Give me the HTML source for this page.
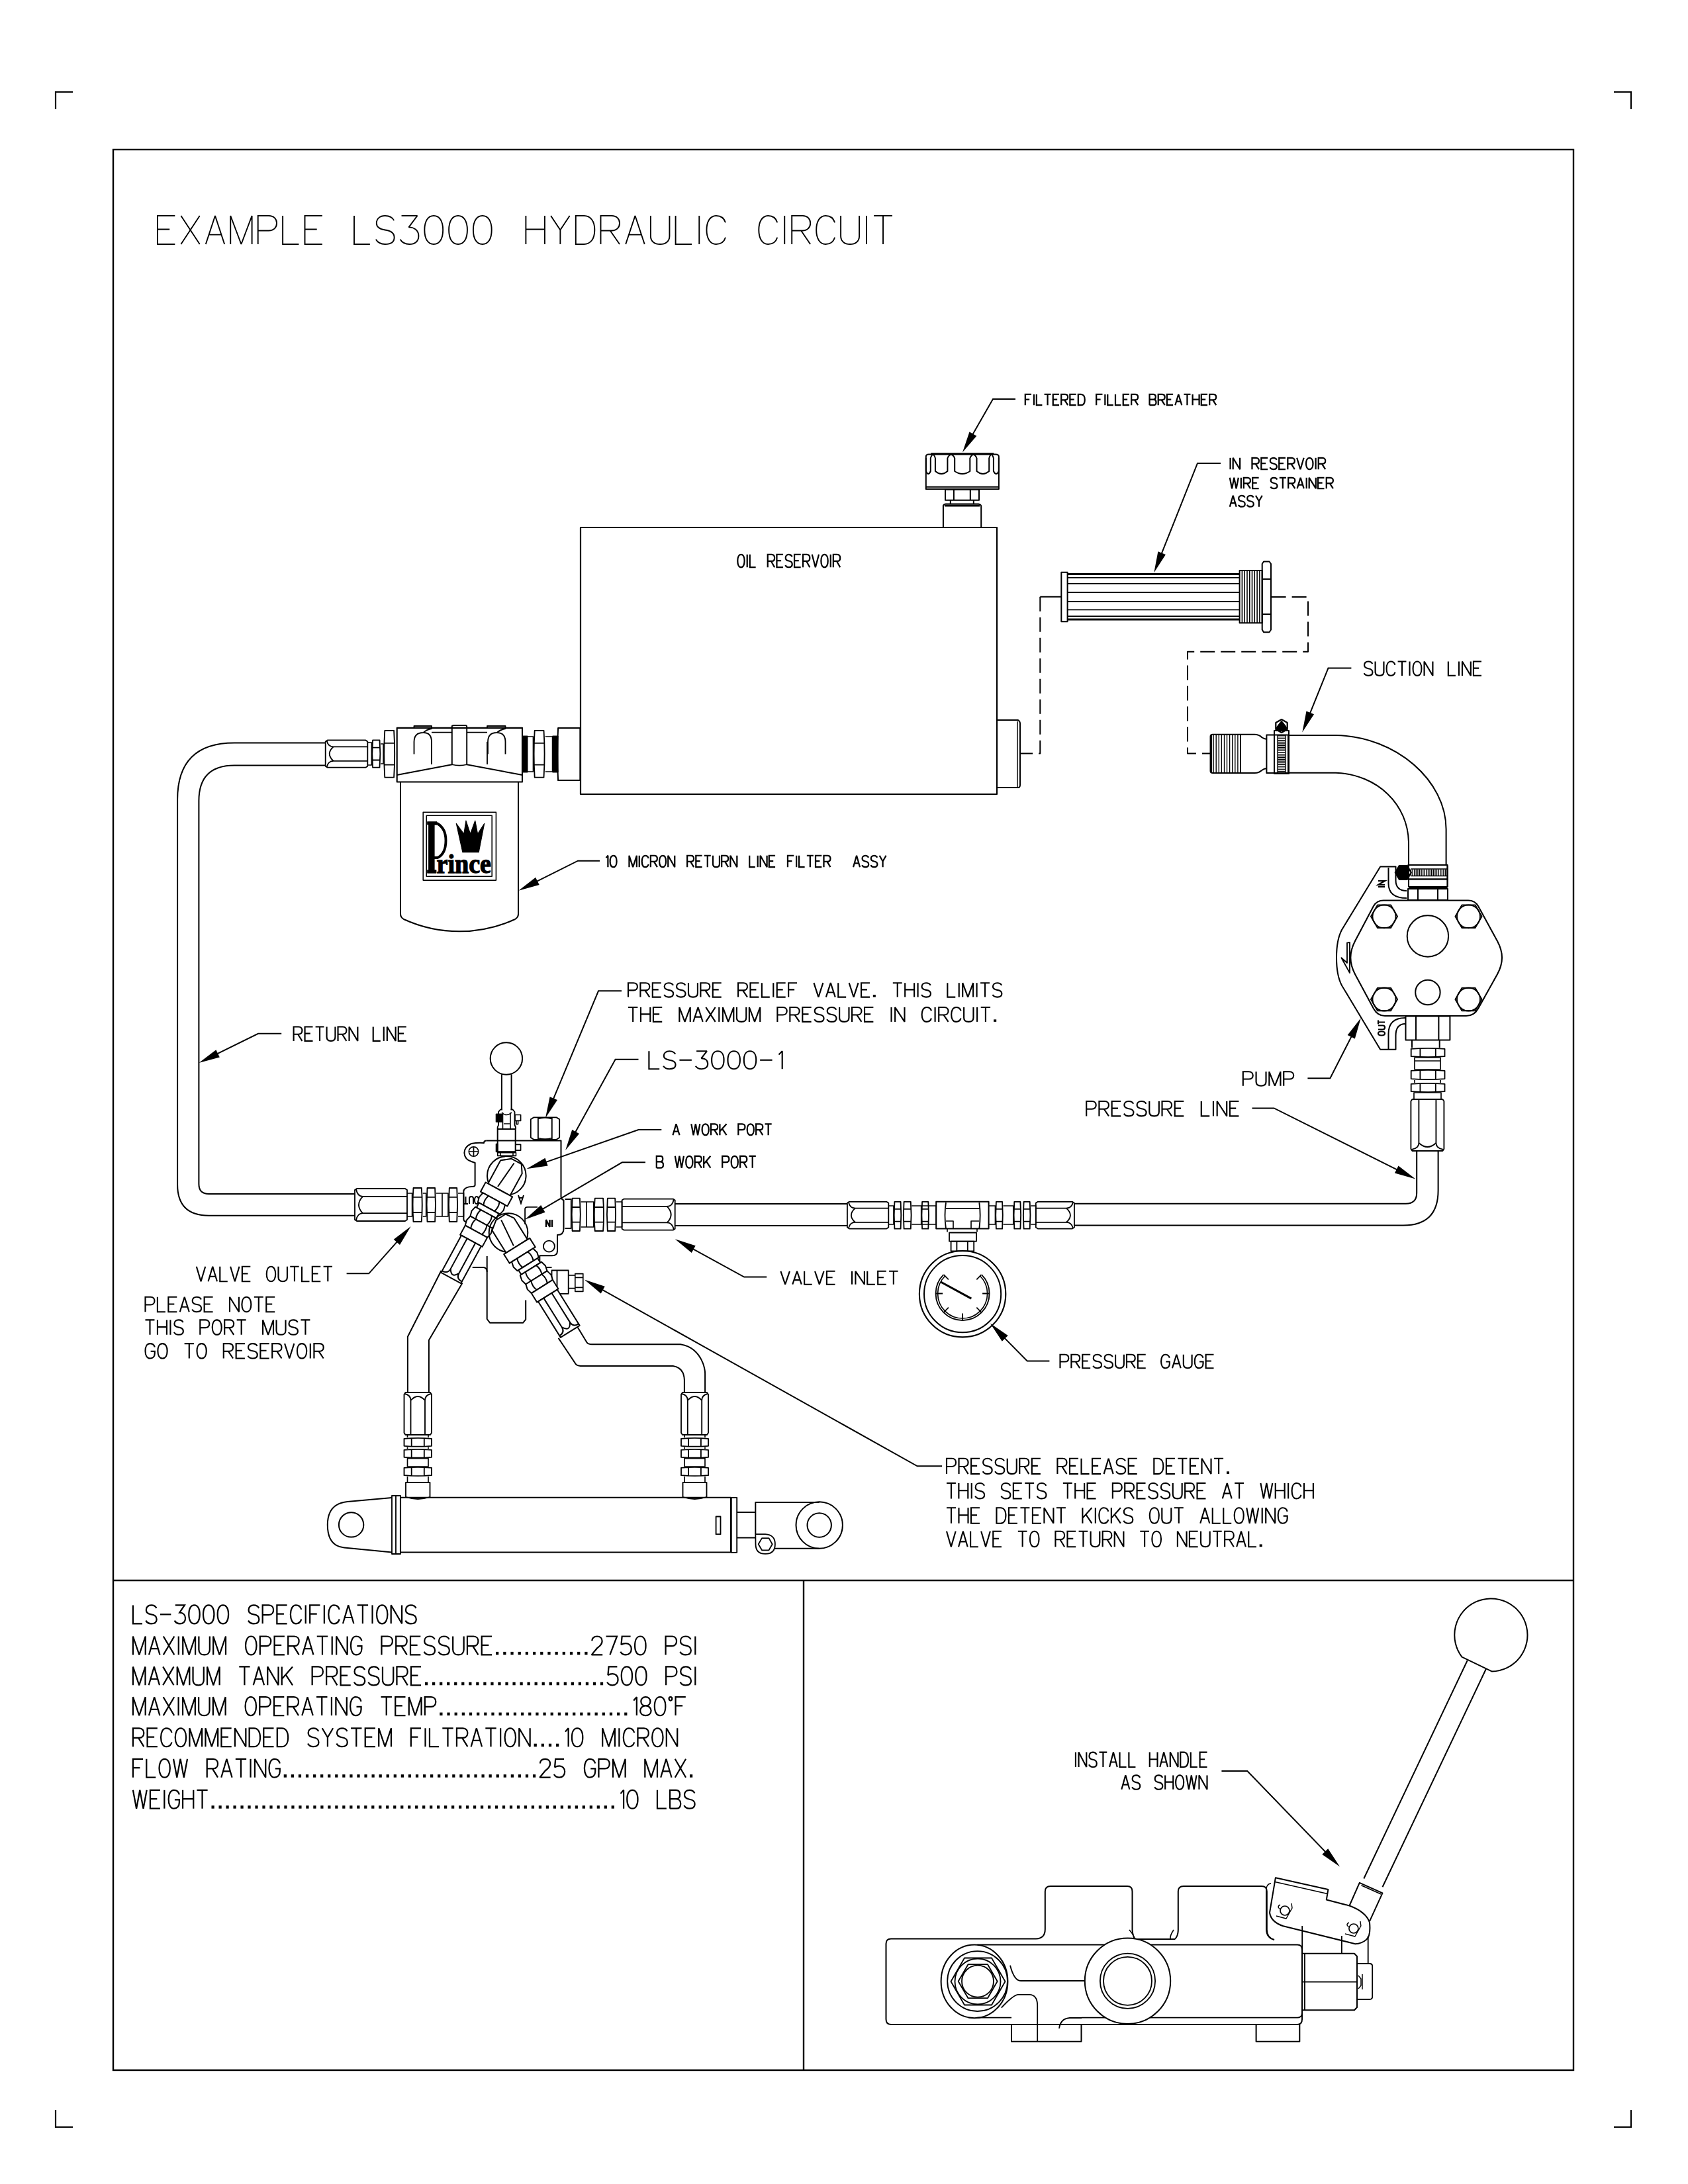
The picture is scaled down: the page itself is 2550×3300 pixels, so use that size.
<!DOCTYPE html>
<html><head><meta charset="utf-8"><style>
html,body{margin:0;padding:0;background:#fff;}
svg{display:block;}
.t path{vector-effect:non-scaling-stroke;stroke-linecap:butt;stroke-linejoin:miter;stroke-miterlimit:2.2;}
</style></head><body>
<svg width="2550" height="3300" viewBox="0 0 2550 3300">
<rect width="2550" height="3300" fill="#fff"/>
<rect x="171" y="226" width="2206" height="2902" fill="none" stroke="#000" stroke-width="2.4"/>
<path d="M84,165 V139 H110 M2438,139 H2464 V165 M84,3188 V3214 H110 M2438,3214 H2464 V3188" fill="none" stroke="#000" stroke-width="2.2"/>
<path d="M171,2388 H2377 M1214,2388 V3128" fill="none" stroke="#000" stroke-width="2.4"/>
<g transform="translate(238.0,326.0) scale(2.0228,2.0476)" fill="none" stroke="#000" stroke-width="1.9064999999999999" vector-effect="non-scaling-stroke" class="t"><path transform="translate(0.00,0)" d="M13,0 H0 V21 H13 M0,10 H9"/><path transform="translate(17.50,0)" d="M0,0 L14,21 M14,0 L0,21"/><path transform="translate(36.00,0)" d="M0,21 L7,0 L14,21 M2.6,14 L11.4,14"/><path transform="translate(54.50,0)" d="M0,21 V0 L8,21 L16,0 V21"/><path transform="translate(75.00,0)" d="M0,21 V0 H8 C12,0 14,2.5 14,5.5 C14,8.5 12,11 8,11 H0"/><path transform="translate(93.50,0)" d="M0,0 V21 H12"/><path transform="translate(110.00,0)" d="M13,0 H0 V21 H13 M0,10 H9"/></g>
<g transform="translate(535.0,326.0) scale(1.9876,2.0476)" fill="none" stroke="#000" stroke-width="1.9064999999999999" vector-effect="non-scaling-stroke" class="t"><path transform="translate(0.00,0)" d="M0,0 V21 H12"/><path transform="translate(16.50,0)" d="M13.8,3.5 C12.5,1 10,0 7,0 C3,0 0.5,2.2 0.5,5.5 C0.5,9 3.5,10 7,10.5 C11,11 14,12.5 14,16 C14,19.5 11,21 7,21 C4,21 1.4,19.8 0,17.5"/><path transform="translate(35.00,0)" d="M1,0 H13 L6.5,8.5 C11,8.5 14,11 14,15 C14,19 11,21 7,21 C4,21 1.4,19.8 0,17.5"/><path transform="translate(53.50,0)" d="M7,0 C2.6,0 0,4 0,10.5 C0,17 2.6,21 7,21 C11.4,21 14,17 14,10.5 C14,4 11.4,0 7,0 Z"/><path transform="translate(72.00,0)" d="M7,0 C2.6,0 0,4 0,10.5 C0,17 2.6,21 7,21 C11.4,21 14,17 14,10.5 C14,4 11.4,0 7,0 Z"/><path transform="translate(90.50,0)" d="M7,0 C2.6,0 0,4 0,10.5 C0,17 2.6,21 7,21 C11.4,21 14,17 14,10.5 C14,4 11.4,0 7,0 Z"/></g>
<g transform="translate(794.4,326.0) scale(2.0378,2.0476)" fill="none" stroke="#000" stroke-width="1.9064999999999999" vector-effect="non-scaling-stroke" class="t"><path transform="translate(0.00,0)" d="M0,0 V21 M14,0 V21 M0,10 H14"/><path transform="translate(18.50,0)" d="M0,0 L7,10.5 V21 M14,0 L7,10.5"/><path transform="translate(37.00,0)" d="M0,0 V21 H6 C11,21 14,17 14,10.5 C14,4 11,0 6,0 Z"/><path transform="translate(55.50,0)" d="M0,21 V0 H8 C12,0 14,2.5 14,5.5 C14,8.5 12,11 8,11 H0 M7,11 L14,21"/><path transform="translate(74.00,0)" d="M0,21 L7,0 L14,21 M2.6,14 L11.4,14"/><path transform="translate(92.50,0)" d="M0,0 V15 C0,19 3,21 7,21 C11,21 14,19 14,15 V0"/><path transform="translate(111.00,0)" d="M0,0 V21 H12"/><path transform="translate(127.50,0)" d="M1,0 V21"/><path transform="translate(134.00,0)" d="M14,5 C13,1.8 10.5,0 7,0 C2.6,0 0,4.4 0,10.5 C0,16.6 2.6,21 7,21 C10.5,21 13,19.2 14,16"/></g>
<g transform="translate(1146.3,326.0) scale(1.9970,2.0476)" fill="none" stroke="#000" stroke-width="1.9064999999999999" vector-effect="non-scaling-stroke" class="t"><path transform="translate(0.00,0)" d="M14,5 C13,1.8 10.5,0 7,0 C2.6,0 0,4.4 0,10.5 C0,16.6 2.6,21 7,21 C10.5,21 13,19.2 14,16"/><path transform="translate(18.50,0)" d="M1,0 V21"/><path transform="translate(25.00,0)" d="M0,21 V0 H8 C12,0 14,2.5 14,5.5 C14,8.5 12,11 8,11 H0 M7,11 L14,21"/><path transform="translate(43.50,0)" d="M14,5 C13,1.8 10.5,0 7,0 C2.6,0 0,4.4 0,10.5 C0,16.6 2.6,21 7,21 C10.5,21 13,19.2 14,16"/><path transform="translate(62.00,0)" d="M0,0 V15 C0,19 3,21 7,21 C11,21 14,19 14,15 V0"/><path transform="translate(80.50,0)" d="M1,0 V21"/><path transform="translate(87.00,0)" d="M0,0 H14 M7,0 V21"/></g>
<g transform="translate(1548.8,595.8) scale(0.7112,0.7810)" fill="none" stroke="#000" stroke-width="2.232" vector-effect="non-scaling-stroke" class="t"><path transform="translate(0.00,0)" d="M13,0 H0 V21 M0,10 H9"/><path transform="translate(17.50,0)" d="M1,0 V21"/><path transform="translate(24.00,0)" d="M0,0 V21 H12"/><path transform="translate(40.50,0)" d="M0,0 H14 M7,0 V21"/><path transform="translate(59.00,0)" d="M13,0 H0 V21 H13 M0,10 H9"/><path transform="translate(76.50,0)" d="M0,21 V0 H8 C12,0 14,2.5 14,5.5 C14,8.5 12,11 8,11 H0 M7,11 L14,21"/><path transform="translate(95.00,0)" d="M13,0 H0 V21 H13 M0,10 H9"/><path transform="translate(112.50,0)" d="M0,0 V21 H6 C11,21 14,17 14,10.5 C14,4 11,0 6,0 Z"/><path transform="translate(151.00,0)" d="M13,0 H0 V21 M0,10 H9"/><path transform="translate(168.50,0)" d="M1,0 V21"/><path transform="translate(175.00,0)" d="M0,0 V21 H12"/><path transform="translate(191.50,0)" d="M0,0 V21 H12"/><path transform="translate(208.00,0)" d="M13,0 H0 V21 H13 M0,10 H9"/><path transform="translate(225.50,0)" d="M0,21 V0 H8 C12,0 14,2.5 14,5.5 C14,8.5 12,11 8,11 H0 M7,11 L14,21"/><path transform="translate(264.00,0)" d="M0,21 V0 H8 C11.5,0 13,2.2 13,5 C13,7.8 11.5,10 8,10 H0 M8,10 C12,10 14,12.5 14,15.5 C14,18.8 12,21 8,21 H0"/><path transform="translate(282.50,0)" d="M0,21 V0 H8 C12,0 14,2.5 14,5.5 C14,8.5 12,11 8,11 H0 M7,11 L14,21"/><path transform="translate(301.00,0)" d="M13,0 H0 V21 H13 M0,10 H9"/><path transform="translate(318.50,0)" d="M0,21 L7,0 L14,21 M2.6,14 L11.4,14"/><path transform="translate(337.00,0)" d="M0,0 H14 M7,0 V21"/><path transform="translate(355.50,0)" d="M0,0 V21 M14,0 V21 M0,10 H14"/><path transform="translate(374.00,0)" d="M13,0 H0 V21 H13 M0,10 H9"/><path transform="translate(391.50,0)" d="M0,21 V0 H8 C12,0 14,2.5 14,5.5 C14,8.5 12,11 8,11 H0 M7,11 L14,21"/></g>
<g transform="translate(1857.8,691.8) scale(0.7482,0.8286)" fill="none" stroke="#000" stroke-width="2.232" vector-effect="non-scaling-stroke" class="t"><path transform="translate(0.00,0)" d="M1,0 V21"/><path transform="translate(6.50,0)" d="M0,21 V0 L14,21 V0"/><path transform="translate(45.00,0)" d="M0,21 V0 H8 C12,0 14,2.5 14,5.5 C14,8.5 12,11 8,11 H0 M7,11 L14,21"/><path transform="translate(63.50,0)" d="M13,0 H0 V21 H13 M0,10 H9"/><path transform="translate(81.00,0)" d="M13.8,3.5 C12.5,1 10,0 7,0 C3,0 0.5,2.2 0.5,5.5 C0.5,9 3.5,10 7,10.5 C11,11 14,12.5 14,16 C14,19.5 11,21 7,21 C4,21 1.4,19.8 0,17.5"/><path transform="translate(99.50,0)" d="M13,0 H0 V21 H13 M0,10 H9"/><path transform="translate(117.00,0)" d="M0,21 V0 H8 C12,0 14,2.5 14,5.5 C14,8.5 12,11 8,11 H0 M7,11 L14,21"/><path transform="translate(135.50,0)" d="M0,0 L7,21 L14,0"/><path transform="translate(154.00,0)" d="M7,0 C2.6,0 0,4.4 0,10.5 C0,16.6 2.6,21 7,21 C11.4,21 14,16.6 14,10.5 C14,4.4 11.4,0 7,0 Z"/><path transform="translate(172.50,0)" d="M1,0 V21"/><path transform="translate(179.00,0)" d="M0,21 V0 H8 C12,0 14,2.5 14,5.5 C14,8.5 12,11 8,11 H0 M7,11 L14,21"/></g>
<g transform="translate(1857.8,721.8) scale(0.7244,0.7810)" fill="none" stroke="#000" stroke-width="2.232" vector-effect="non-scaling-stroke" class="t"><path transform="translate(0.00,0)" d="M0,0 L4.5,21 L9,0 L13.5,21 L18,0"/><path transform="translate(22.50,0)" d="M1,0 V21"/><path transform="translate(29.00,0)" d="M0,21 V0 H8 C12,0 14,2.5 14,5.5 C14,8.5 12,11 8,11 H0 M7,11 L14,21"/><path transform="translate(47.50,0)" d="M13,0 H0 V21 H13 M0,10 H9"/><path transform="translate(85.00,0)" d="M13.8,3.5 C12.5,1 10,0 7,0 C3,0 0.5,2.2 0.5,5.5 C0.5,9 3.5,10 7,10.5 C11,11 14,12.5 14,16 C14,19.5 11,21 7,21 C4,21 1.4,19.8 0,17.5"/><path transform="translate(103.50,0)" d="M0,0 H14 M7,0 V21"/><path transform="translate(122.00,0)" d="M0,21 V0 H8 C12,0 14,2.5 14,5.5 C14,8.5 12,11 8,11 H0 M7,11 L14,21"/><path transform="translate(140.50,0)" d="M0,21 L7,0 L14,21 M2.6,14 L11.4,14"/><path transform="translate(159.00,0)" d="M1,0 V21"/><path transform="translate(165.50,0)" d="M0,21 V0 L14,21 V0"/><path transform="translate(184.00,0)" d="M13,0 H0 V21 H13 M0,10 H9"/><path transform="translate(201.50,0)" d="M0,21 V0 H8 C12,0 14,2.5 14,5.5 C14,8.5 12,11 8,11 H0 M7,11 L14,21"/></g>
<g transform="translate(1857.8,748.8) scale(0.7050,0.8048)" fill="none" stroke="#000" stroke-width="2.232" vector-effect="non-scaling-stroke" class="t"><path transform="translate(0.00,0)" d="M0,21 L7,0 L14,21 M2.6,14 L11.4,14"/><path transform="translate(18.50,0)" d="M13.8,3.5 C12.5,1 10,0 7,0 C3,0 0.5,2.2 0.5,5.5 C0.5,9 3.5,10 7,10.5 C11,11 14,12.5 14,16 C14,19.5 11,21 7,21 C4,21 1.4,19.8 0,17.5"/><path transform="translate(37.00,0)" d="M13.8,3.5 C12.5,1 10,0 7,0 C3,0 0.5,2.2 0.5,5.5 C0.5,9 3.5,10 7,10.5 C11,11 14,12.5 14,16 C14,19.5 11,21 7,21 C4,21 1.4,19.8 0,17.5"/><path transform="translate(55.50,0)" d="M0,0 L7,10.5 V21 M14,0 L7,10.5"/></g>
<g transform="translate(1114.3,837.8) scale(0.7394,0.9238)" fill="none" stroke="#000" stroke-width="2.232" vector-effect="non-scaling-stroke" class="t"><path transform="translate(0.00,0)" d="M7,0 C2.6,0 0,4.4 0,10.5 C0,16.6 2.6,21 7,21 C11.4,21 14,16.6 14,10.5 C14,4.4 11.4,0 7,0 Z"/><path transform="translate(18.50,0)" d="M1,0 V21"/><path transform="translate(25.00,0)" d="M0,0 V21 H12"/><path transform="translate(61.50,0)" d="M0,21 V0 H8 C12,0 14,2.5 14,5.5 C14,8.5 12,11 8,11 H0 M7,11 L14,21"/><path transform="translate(80.00,0)" d="M13,0 H0 V21 H13 M0,10 H9"/><path transform="translate(97.50,0)" d="M13.8,3.5 C12.5,1 10,0 7,0 C3,0 0.5,2.2 0.5,5.5 C0.5,9 3.5,10 7,10.5 C11,11 14,12.5 14,16 C14,19.5 11,21 7,21 C4,21 1.4,19.8 0,17.5"/><path transform="translate(116.00,0)" d="M13,0 H0 V21 H13 M0,10 H9"/><path transform="translate(133.50,0)" d="M0,21 V0 H8 C12,0 14,2.5 14,5.5 C14,8.5 12,11 8,11 H0 M7,11 L14,21"/><path transform="translate(152.00,0)" d="M0,0 L7,21 L14,0"/><path transform="translate(170.50,0)" d="M7,0 C2.6,0 0,4.4 0,10.5 C0,16.6 2.6,21 7,21 C11.4,21 14,16.6 14,10.5 C14,4.4 11.4,0 7,0 Z"/><path transform="translate(189.00,0)" d="M1,0 V21"/><path transform="translate(195.50,0)" d="M0,21 V0 H8 C12,0 14,2.5 14,5.5 C14,8.5 12,11 8,11 H0 M7,11 L14,21"/></g>
<g transform="translate(2060.6,999.5) scale(0.9187,1.0190)" fill="none" stroke="#000" stroke-width="2.139" vector-effect="non-scaling-stroke" class="t"><path transform="translate(0.00,0)" d="M13.8,3.5 C12.5,1 10,0 7,0 C3,0 0.5,2.2 0.5,5.5 C0.5,9 3.5,10 7,10.5 C11,11 14,12.5 14,16 C14,19.5 11,21 7,21 C4,21 1.4,19.8 0,17.5"/><path transform="translate(18.50,0)" d="M0,0 V15 C0,19 3,21 7,21 C11,21 14,19 14,15 V0"/><path transform="translate(37.00,0)" d="M14,5 C13,1.8 10.5,0 7,0 C2.6,0 0,4.4 0,10.5 C0,16.6 2.6,21 7,21 C10.5,21 13,19.2 14,16"/><path transform="translate(55.50,0)" d="M0,0 H14 M7,0 V21"/><path transform="translate(74.00,0)" d="M1,0 V21"/><path transform="translate(80.50,0)" d="M7,0 C2.6,0 0,4.4 0,10.5 C0,16.6 2.6,21 7,21 C11.4,21 14,16.6 14,10.5 C14,4.4 11.4,0 7,0 Z"/><path transform="translate(99.00,0)" d="M0,21 V0 L14,21 V0"/><path transform="translate(138.50,0)" d="M0,0 V21 H12"/><path transform="translate(155.00,0)" d="M1,0 V21"/><path transform="translate(161.50,0)" d="M0,21 V0 L14,21 V0"/><path transform="translate(180.00,0)" d="M13,0 H0 V21 H13 M0,10 H9"/></g>
<g transform="translate(913.4,1292.8) scale(0.7128,0.8286)" fill="none" stroke="#000" stroke-width="2.232" vector-effect="non-scaling-stroke" class="t"><path transform="translate(0.00,0)" d="M3,4 L7,0 V21"/><path transform="translate(11.50,0)" d="M7,0 C2.6,0 0,4 0,10.5 C0,17 2.6,21 7,21 C11.4,21 14,17 14,10.5 C14,4 11.4,0 7,0 Z"/><path transform="translate(52.00,0)" d="M0,21 V0 L8,21 L16,0 V21"/><path transform="translate(72.50,0)" d="M1,0 V21"/><path transform="translate(79.00,0)" d="M14,5 C13,1.8 10.5,0 7,0 C2.6,0 0,4.4 0,10.5 C0,16.6 2.6,21 7,21 C10.5,21 13,19.2 14,16"/><path transform="translate(97.50,0)" d="M0,21 V0 H8 C12,0 14,2.5 14,5.5 C14,8.5 12,11 8,11 H0 M7,11 L14,21"/><path transform="translate(116.00,0)" d="M7,0 C2.6,0 0,4.4 0,10.5 C0,16.6 2.6,21 7,21 C11.4,21 14,16.6 14,10.5 C14,4.4 11.4,0 7,0 Z"/><path transform="translate(134.50,0)" d="M0,21 V0 L14,21 V0"/><path transform="translate(175.00,0)" d="M0,21 V0 H8 C12,0 14,2.5 14,5.5 C14,8.5 12,11 8,11 H0 M7,11 L14,21"/><path transform="translate(193.50,0)" d="M13,0 H0 V21 H13 M0,10 H9"/><path transform="translate(211.00,0)" d="M0,0 H14 M7,0 V21"/><path transform="translate(229.50,0)" d="M0,0 V15 C0,19 3,21 7,21 C11,21 14,19 14,15 V0"/><path transform="translate(248.00,0)" d="M0,21 V0 H8 C12,0 14,2.5 14,5.5 C14,8.5 12,11 8,11 H0 M7,11 L14,21"/><path transform="translate(266.50,0)" d="M0,21 V0 L14,21 V0"/><path transform="translate(307.00,0)" d="M0,0 V21 H12"/><path transform="translate(323.50,0)" d="M1,0 V21"/><path transform="translate(330.00,0)" d="M0,21 V0 L14,21 V0"/><path transform="translate(348.50,0)" d="M13,0 H0 V21 H13 M0,10 H9"/><path transform="translate(388.00,0)" d="M13,0 H0 V21 M0,10 H9"/><path transform="translate(405.50,0)" d="M1,0 V21"/><path transform="translate(412.00,0)" d="M0,0 V21 H12"/><path transform="translate(428.50,0)" d="M0,0 H14 M7,0 V21"/><path transform="translate(447.00,0)" d="M13,0 H0 V21 H13 M0,10 H9"/><path transform="translate(464.50,0)" d="M0,21 V0 H8 C12,0 14,2.5 14,5.5 C14,8.5 12,11 8,11 H0 M7,11 L14,21"/><path transform="translate(527.00,0)" d="M0,21 L7,0 L14,21 M2.6,14 L11.4,14"/><path transform="translate(545.50,0)" d="M13.8,3.5 C12.5,1 10,0 7,0 C3,0 0.5,2.2 0.5,5.5 C0.5,9 3.5,10 7,10.5 C11,11 14,12.5 14,16 C14,19.5 11,21 7,21 C4,21 1.4,19.8 0,17.5"/><path transform="translate(564.00,0)" d="M13.8,3.5 C12.5,1 10,0 7,0 C3,0 0.5,2.2 0.5,5.5 C0.5,9 3.5,10 7,10.5 C11,11 14,12.5 14,16 C14,19.5 11,21 7,21 C4,21 1.4,19.8 0,17.5"/><path transform="translate(582.50,0)" d="M0,0 L7,10.5 V21 M14,0 L7,10.5"/></g>
<g transform="translate(443.6,1551.5) scale(0.9170,1.0190)" fill="none" stroke="#000" stroke-width="2.139" vector-effect="non-scaling-stroke" class="t"><path transform="translate(0.00,0)" d="M0,21 V0 H8 C12,0 14,2.5 14,5.5 C14,8.5 12,11 8,11 H0 M7,11 L14,21"/><path transform="translate(18.50,0)" d="M13,0 H0 V21 H13 M0,10 H9"/><path transform="translate(36.00,0)" d="M0,0 H14 M7,0 V21"/><path transform="translate(54.50,0)" d="M0,0 V15 C0,19 3,21 7,21 C11,21 14,19 14,15 V0"/><path transform="translate(73.00,0)" d="M0,21 V0 H8 C12,0 14,2.5 14,5.5 C14,8.5 12,11 8,11 H0 M7,11 L14,21"/><path transform="translate(91.50,0)" d="M0,21 V0 L14,21 V0"/><path transform="translate(131.00,0)" d="M0,0 V21 H12"/><path transform="translate(147.50,0)" d="M1,0 V21"/><path transform="translate(154.00,0)" d="M0,21 V0 L14,21 V0"/><path transform="translate(172.50,0)" d="M13,0 H0 V21 H13 M0,10 H9"/></g>
<g transform="translate(949.0,1485.2) scale(0.9945,1.0190)" fill="none" stroke="#000" stroke-width="2.139" vector-effect="non-scaling-stroke" class="t"><path transform="translate(0.00,0)" d="M0,21 V0 H8 C12,0 14,2.5 14,5.5 C14,8.5 12,11 8,11 H0"/><path transform="translate(18.50,0)" d="M0,21 V0 H8 C12,0 14,2.5 14,5.5 C14,8.5 12,11 8,11 H0 M7,11 L14,21"/><path transform="translate(37.00,0)" d="M13,0 H0 V21 H13 M0,10 H9"/><path transform="translate(54.50,0)" d="M13.8,3.5 C12.5,1 10,0 7,0 C3,0 0.5,2.2 0.5,5.5 C0.5,9 3.5,10 7,10.5 C11,11 14,12.5 14,16 C14,19.5 11,21 7,21 C4,21 1.4,19.8 0,17.5"/><path transform="translate(73.00,0)" d="M13.8,3.5 C12.5,1 10,0 7,0 C3,0 0.5,2.2 0.5,5.5 C0.5,9 3.5,10 7,10.5 C11,11 14,12.5 14,16 C14,19.5 11,21 7,21 C4,21 1.4,19.8 0,17.5"/><path transform="translate(91.50,0)" d="M0,0 V15 C0,19 3,21 7,21 C11,21 14,19 14,15 V0"/><path transform="translate(110.00,0)" d="M0,21 V0 H8 C12,0 14,2.5 14,5.5 C14,8.5 12,11 8,11 H0 M7,11 L14,21"/><path transform="translate(128.50,0)" d="M13,0 H0 V21 H13 M0,10 H9"/><path transform="translate(167.00,0)" d="M0,21 V0 H8 C12,0 14,2.5 14,5.5 C14,8.5 12,11 8,11 H0 M7,11 L14,21"/><path transform="translate(185.50,0)" d="M13,0 H0 V21 H13 M0,10 H9"/><path transform="translate(203.00,0)" d="M0,0 V21 H12"/><path transform="translate(219.50,0)" d="M1,0 V21"/><path transform="translate(226.00,0)" d="M13,0 H0 V21 H13 M0,10 H9"/><path transform="translate(243.50,0)" d="M13,0 H0 V21 M0,10 H9"/><path transform="translate(282.00,0)" d="M0,0 L7,21 L14,0"/><path transform="translate(300.50,0)" d="M0,21 L7,0 L14,21 M2.6,14 L11.4,14"/><path transform="translate(319.00,0)" d="M0,0 V21 H12"/><path transform="translate(335.50,0)" d="M0,0 L7,21 L14,0"/><path transform="translate(354.00,0)" d="M13,0 H0 V21 H13 M0,10 H9"/><path transform="translate(371.50,0)" d="M2.4,17.6 V21" style="stroke-width:4.06px"/><path transform="translate(402.00,0)" d="M0,0 H14 M7,0 V21"/><path transform="translate(420.50,0)" d="M0,0 V21 M14,0 V21 M0,10 H14"/><path transform="translate(439.00,0)" d="M1,0 V21"/><path transform="translate(445.50,0)" d="M13.8,3.5 C12.5,1 10,0 7,0 C3,0 0.5,2.2 0.5,5.5 C0.5,9 3.5,10 7,10.5 C11,11 14,12.5 14,16 C14,19.5 11,21 7,21 C4,21 1.4,19.8 0,17.5"/><path transform="translate(485.00,0)" d="M0,0 V21 H12"/><path transform="translate(501.50,0)" d="M1,0 V21"/><path transform="translate(508.00,0)" d="M0,21 V0 L8,21 L16,0 V21"/><path transform="translate(528.50,0)" d="M1,0 V21"/><path transform="translate(535.00,0)" d="M0,0 H14 M7,0 V21"/><path transform="translate(553.50,0)" d="M13.8,3.5 C12.5,1 10,0 7,0 C3,0 0.5,2.2 0.5,5.5 C0.5,9 3.5,10 7,10.5 C11,11 14,12.5 14,16 C14,19.5 11,21 7,21 C4,21 1.4,19.8 0,17.5"/></g>
<g transform="translate(949.0,1522.0) scale(1.0245,1.0429)" fill="none" stroke="#000" stroke-width="2.139" vector-effect="non-scaling-stroke" class="t"><path transform="translate(0.00,0)" d="M0,0 H14 M7,0 V21"/><path transform="translate(18.50,0)" d="M0,0 V21 M14,0 V21 M0,10 H14"/><path transform="translate(37.00,0)" d="M13,0 H0 V21 H13 M0,10 H9"/><path transform="translate(75.50,0)" d="M0,21 V0 L8,21 L16,0 V21"/><path transform="translate(96.00,0)" d="M0,21 L7,0 L14,21 M2.6,14 L11.4,14"/><path transform="translate(114.50,0)" d="M0,0 L14,21 M14,0 L0,21"/><path transform="translate(133.00,0)" d="M1,0 V21"/><path transform="translate(139.50,0)" d="M0,21 V0 L8,21 L16,0 V21"/><path transform="translate(160.00,0)" d="M0,0 V15 C0,19 3,21 7,21 C11,21 14,19 14,15 V0"/><path transform="translate(178.50,0)" d="M0,21 V0 L8,21 L16,0 V21"/><path transform="translate(220.00,0)" d="M0,21 V0 H8 C12,0 14,2.5 14,5.5 C14,8.5 12,11 8,11 H0"/><path transform="translate(238.50,0)" d="M0,21 V0 H8 C12,0 14,2.5 14,5.5 C14,8.5 12,11 8,11 H0 M7,11 L14,21"/><path transform="translate(257.00,0)" d="M13,0 H0 V21 H13 M0,10 H9"/><path transform="translate(274.50,0)" d="M13.8,3.5 C12.5,1 10,0 7,0 C3,0 0.5,2.2 0.5,5.5 C0.5,9 3.5,10 7,10.5 C11,11 14,12.5 14,16 C14,19.5 11,21 7,21 C4,21 1.4,19.8 0,17.5"/><path transform="translate(293.00,0)" d="M13.8,3.5 C12.5,1 10,0 7,0 C3,0 0.5,2.2 0.5,5.5 C0.5,9 3.5,10 7,10.5 C11,11 14,12.5 14,16 C14,19.5 11,21 7,21 C4,21 1.4,19.8 0,17.5"/><path transform="translate(311.50,0)" d="M0,0 V15 C0,19 3,21 7,21 C11,21 14,19 14,15 V0"/><path transform="translate(330.00,0)" d="M0,21 V0 H8 C12,0 14,2.5 14,5.5 C14,8.5 12,11 8,11 H0 M7,11 L14,21"/><path transform="translate(348.50,0)" d="M13,0 H0 V21 H13 M0,10 H9"/><path transform="translate(387.00,0)" d="M1,0 V21"/><path transform="translate(393.50,0)" d="M0,21 V0 L14,21 V0"/><path transform="translate(433.00,0)" d="M14,5 C13,1.8 10.5,0 7,0 C2.6,0 0,4.4 0,10.5 C0,16.6 2.6,21 7,21 C10.5,21 13,19.2 14,16"/><path transform="translate(451.50,0)" d="M1,0 V21"/><path transform="translate(458.00,0)" d="M0,21 V0 H8 C12,0 14,2.5 14,5.5 C14,8.5 12,11 8,11 H0 M7,11 L14,21"/><path transform="translate(476.50,0)" d="M14,5 C13,1.8 10.5,0 7,0 C2.6,0 0,4.4 0,10.5 C0,16.6 2.6,21 7,21 C10.5,21 13,19.2 14,16"/><path transform="translate(495.00,0)" d="M0,0 V15 C0,19 3,21 7,21 C11,21 14,19 14,15 V0"/><path transform="translate(513.50,0)" d="M1,0 V21"/><path transform="translate(520.00,0)" d="M0,0 H14 M7,0 V21"/><path transform="translate(538.50,0)" d="M2.4,17.6 V21" style="stroke-width:4.06px"/></g>
<g transform="translate(980.4,1588.3) scale(1.3157,1.2810)" fill="none" stroke="#000" stroke-width="2.139" vector-effect="non-scaling-stroke" class="t"><path transform="translate(0.00,0)" d="M0,0 V21 H12"/><path transform="translate(16.50,0)" d="M13.8,3.5 C12.5,1 10,0 7,0 C3,0 0.5,2.2 0.5,5.5 C0.5,9 3.5,10 7,10.5 C11,11 14,12.5 14,16 C14,19.5 11,21 7,21 C4,21 1.4,19.8 0,17.5"/><path transform="translate(35.00,0)" d="M0,10.5 H14"/><path transform="translate(53.50,0)" d="M1,0 H13 L6.5,8.5 C11,8.5 14,11 14,15 C14,19 11,21 7,21 C4,21 1.4,19.8 0,17.5"/><path transform="translate(72.00,0)" d="M7,0 C2.6,0 0,4 0,10.5 C0,17 2.6,21 7,21 C11.4,21 14,17 14,10.5 C14,4 11.4,0 7,0 Z"/><path transform="translate(90.50,0)" d="M7,0 C2.6,0 0,4 0,10.5 C0,17 2.6,21 7,21 C11.4,21 14,17 14,10.5 C14,4 11.4,0 7,0 Z"/><path transform="translate(109.00,0)" d="M7,0 C2.6,0 0,4 0,10.5 C0,17 2.6,21 7,21 C11.4,21 14,17 14,10.5 C14,4 11.4,0 7,0 Z"/><path transform="translate(127.50,0)" d="M0,10.5 H14"/><path transform="translate(146.00,0)" d="M3,4 L7,0 V21"/></g>
<g transform="translate(1016.4,1698.3) scale(0.7248,0.8048)" fill="none" stroke="#000" stroke-width="2.232" vector-effect="non-scaling-stroke" class="t"><path transform="translate(0.00,0)" d="M0,21 L7,0 L14,21 M2.6,14 L11.4,14"/><path transform="translate(38.50,0)" d="M0,0 L4.5,21 L9,0 L13.5,21 L18,0"/><path transform="translate(61.00,0)" d="M7,0 C2.6,0 0,4.4 0,10.5 C0,16.6 2.6,21 7,21 C11.4,21 14,16.6 14,10.5 C14,4.4 11.4,0 7,0 Z"/><path transform="translate(79.50,0)" d="M0,21 V0 H8 C12,0 14,2.5 14,5.5 C14,8.5 12,11 8,11 H0 M7,11 L14,21"/><path transform="translate(98.00,0)" d="M0,0 V21 M14,0 L0,14 M5,9 L14,21"/><path transform="translate(136.50,0)" d="M0,21 V0 H8 C12,0 14,2.5 14,5.5 C14,8.5 12,11 8,11 H0"/><path transform="translate(155.00,0)" d="M7,0 C2.6,0 0,4.4 0,10.5 C0,16.6 2.6,21 7,21 C11.4,21 14,16.6 14,10.5 C14,4.4 11.4,0 7,0 Z"/><path transform="translate(173.50,0)" d="M0,21 V0 H8 C12,0 14,2.5 14,5.5 C14,8.5 12,11 8,11 H0 M7,11 L14,21"/><path transform="translate(192.00,0)" d="M0,0 H14 M7,0 V21"/></g>
<g transform="translate(991.8,1746.8) scale(0.7282,0.8524)" fill="none" stroke="#000" stroke-width="2.232" vector-effect="non-scaling-stroke" class="t"><path transform="translate(0.00,0)" d="M0,21 V0 H8 C11.5,0 13,2.2 13,5 C13,7.8 11.5,10 8,10 H0 M8,10 C12,10 14,12.5 14,15.5 C14,18.8 12,21 8,21 H0"/><path transform="translate(38.50,0)" d="M0,0 L4.5,21 L9,0 L13.5,21 L18,0"/><path transform="translate(61.00,0)" d="M7,0 C2.6,0 0,4.4 0,10.5 C0,16.6 2.6,21 7,21 C11.4,21 14,16.6 14,10.5 C14,4.4 11.4,0 7,0 Z"/><path transform="translate(79.50,0)" d="M0,21 V0 H8 C12,0 14,2.5 14,5.5 C14,8.5 12,11 8,11 H0 M7,11 L14,21"/><path transform="translate(98.00,0)" d="M0,0 V21 M14,0 L0,14 M5,9 L14,21"/><path transform="translate(136.50,0)" d="M0,21 V0 H8 C12,0 14,2.5 14,5.5 C14,8.5 12,11 8,11 H0"/><path transform="translate(155.00,0)" d="M7,0 C2.6,0 0,4.4 0,10.5 C0,16.6 2.6,21 7,21 C11.4,21 14,16.6 14,10.5 C14,4.4 11.4,0 7,0 Z"/><path transform="translate(173.50,0)" d="M0,21 V0 H8 C12,0 14,2.5 14,5.5 C14,8.5 12,11 8,11 H0 M7,11 L14,21"/><path transform="translate(192.00,0)" d="M0,0 H14 M7,0 V21"/></g>
<g transform="translate(1877.8,1619.3) scale(1.0685,1.0190)" fill="none" stroke="#000" stroke-width="2.139" vector-effect="non-scaling-stroke" class="t"><path transform="translate(0.00,0)" d="M0,21 V0 H8 C12,0 14,2.5 14,5.5 C14,8.5 12,11 8,11 H0"/><path transform="translate(18.50,0)" d="M0,0 V15 C0,19 3,21 7,21 C11,21 14,19 14,15 V0"/><path transform="translate(37.00,0)" d="M0,21 V0 L8,21 L16,0 V21"/><path transform="translate(57.50,0)" d="M0,21 V0 H8 C12,0 14,2.5 14,5.5 C14,8.5 12,11 8,11 H0"/></g>
<g transform="translate(1641.2,1664.0) scale(1.0393,1.0667)" fill="none" stroke="#000" stroke-width="2.139" vector-effect="non-scaling-stroke" class="t"><path transform="translate(0.00,0)" d="M0,21 V0 H8 C12,0 14,2.5 14,5.5 C14,8.5 12,11 8,11 H0"/><path transform="translate(18.50,0)" d="M0,21 V0 H8 C12,0 14,2.5 14,5.5 C14,8.5 12,11 8,11 H0 M7,11 L14,21"/><path transform="translate(37.00,0)" d="M13,0 H0 V21 H13 M0,10 H9"/><path transform="translate(54.50,0)" d="M13.8,3.5 C12.5,1 10,0 7,0 C3,0 0.5,2.2 0.5,5.5 C0.5,9 3.5,10 7,10.5 C11,11 14,12.5 14,16 C14,19.5 11,21 7,21 C4,21 1.4,19.8 0,17.5"/><path transform="translate(73.00,0)" d="M13.8,3.5 C12.5,1 10,0 7,0 C3,0 0.5,2.2 0.5,5.5 C0.5,9 3.5,10 7,10.5 C11,11 14,12.5 14,16 C14,19.5 11,21 7,21 C4,21 1.4,19.8 0,17.5"/><path transform="translate(91.50,0)" d="M0,0 V15 C0,19 3,21 7,21 C11,21 14,19 14,15 V0"/><path transform="translate(110.00,0)" d="M0,21 V0 H8 C12,0 14,2.5 14,5.5 C14,8.5 12,11 8,11 H0 M7,11 L14,21"/><path transform="translate(128.50,0)" d="M13,0 H0 V21 H13 M0,10 H9"/><path transform="translate(167.00,0)" d="M0,0 V21 H12"/><path transform="translate(183.50,0)" d="M1,0 V21"/><path transform="translate(190.00,0)" d="M0,21 V0 L14,21 V0"/><path transform="translate(208.50,0)" d="M13,0 H0 V21 H13 M0,10 H9"/></g>
<g transform="translate(296.8,1913.8) scale(0.9589,1.0667)" fill="none" stroke="#000" stroke-width="2.139" vector-effect="non-scaling-stroke" class="t"><path transform="translate(0.00,0)" d="M0,0 L7,21 L14,0"/><path transform="translate(18.50,0)" d="M0,21 L7,0 L14,21 M2.6,14 L11.4,14"/><path transform="translate(37.00,0)" d="M0,0 V21 H12"/><path transform="translate(53.50,0)" d="M0,0 L7,21 L14,0"/><path transform="translate(72.00,0)" d="M13,0 H0 V21 H13 M0,10 H9"/><path transform="translate(110.50,0)" d="M7,0 C2.6,0 0,4.4 0,10.5 C0,16.6 2.6,21 7,21 C11.4,21 14,16.6 14,10.5 C14,4.4 11.4,0 7,0 Z"/><path transform="translate(129.00,0)" d="M0,0 V15 C0,19 3,21 7,21 C11,21 14,19 14,15 V0"/><path transform="translate(147.50,0)" d="M0,0 H14 M7,0 V21"/><path transform="translate(166.00,0)" d="M0,0 V21 H12"/><path transform="translate(182.50,0)" d="M13,0 H0 V21 H13 M0,10 H9"/><path transform="translate(200.00,0)" d="M0,0 H14 M7,0 V21"/></g>
<g transform="translate(219.5,1959.8) scale(0.9959,1.0667)" fill="none" stroke="#000" stroke-width="2.139" vector-effect="non-scaling-stroke" class="t"><path transform="translate(0.00,0)" d="M0,21 V0 H8 C12,0 14,2.5 14,5.5 C14,8.5 12,11 8,11 H0"/><path transform="translate(18.50,0)" d="M0,0 V21 H12"/><path transform="translate(35.00,0)" d="M13,0 H0 V21 H13 M0,10 H9"/><path transform="translate(52.50,0)" d="M0,21 L7,0 L14,21 M2.6,14 L11.4,14"/><path transform="translate(71.00,0)" d="M13.8,3.5 C12.5,1 10,0 7,0 C3,0 0.5,2.2 0.5,5.5 C0.5,9 3.5,10 7,10.5 C11,11 14,12.5 14,16 C14,19.5 11,21 7,21 C4,21 1.4,19.8 0,17.5"/><path transform="translate(89.50,0)" d="M13,0 H0 V21 H13 M0,10 H9"/><path transform="translate(128.00,0)" d="M0,21 V0 L14,21 V0"/><path transform="translate(146.50,0)" d="M7,0 C2.6,0 0,4.4 0,10.5 C0,16.6 2.6,21 7,21 C11.4,21 14,16.6 14,10.5 C14,4.4 11.4,0 7,0 Z"/><path transform="translate(165.00,0)" d="M0,0 H14 M7,0 V21"/><path transform="translate(183.50,0)" d="M13,0 H0 V21 H13 M0,10 H9"/></g>
<g transform="translate(219.5,1994.4) scale(0.9976,1.0667)" fill="none" stroke="#000" stroke-width="2.139" vector-effect="non-scaling-stroke" class="t"><path transform="translate(0.00,0)" d="M0,0 H14 M7,0 V21"/><path transform="translate(18.50,0)" d="M0,0 V21 M14,0 V21 M0,10 H14"/><path transform="translate(37.00,0)" d="M1,0 V21"/><path transform="translate(43.50,0)" d="M13.8,3.5 C12.5,1 10,0 7,0 C3,0 0.5,2.2 0.5,5.5 C0.5,9 3.5,10 7,10.5 C11,11 14,12.5 14,16 C14,19.5 11,21 7,21 C4,21 1.4,19.8 0,17.5"/><path transform="translate(83.00,0)" d="M0,21 V0 H8 C12,0 14,2.5 14,5.5 C14,8.5 12,11 8,11 H0"/><path transform="translate(101.50,0)" d="M7,0 C2.6,0 0,4.4 0,10.5 C0,16.6 2.6,21 7,21 C11.4,21 14,16.6 14,10.5 C14,4.4 11.4,0 7,0 Z"/><path transform="translate(120.00,0)" d="M0,21 V0 H8 C12,0 14,2.5 14,5.5 C14,8.5 12,11 8,11 H0 M7,11 L14,21"/><path transform="translate(138.50,0)" d="M0,0 H14 M7,0 V21"/><path transform="translate(178.00,0)" d="M0,21 V0 L8,21 L16,0 V21"/><path transform="translate(198.50,0)" d="M0,0 V15 C0,19 3,21 7,21 C11,21 14,19 14,15 V0"/><path transform="translate(217.00,0)" d="M13.8,3.5 C12.5,1 10,0 7,0 C3,0 0.5,2.2 0.5,5.5 C0.5,9 3.5,10 7,10.5 C11,11 14,12.5 14,16 C14,19.5 11,21 7,21 C4,21 1.4,19.8 0,17.5"/><path transform="translate(235.50,0)" d="M0,0 H14 M7,0 V21"/></g>
<g transform="translate(219.5,2030.1) scale(1.0197,1.0667)" fill="none" stroke="#000" stroke-width="2.139" vector-effect="non-scaling-stroke" class="t"><path transform="translate(0.00,0)" d="M14,5 C13,1.8 10.5,0 7,0 C2.6,0 0,4.4 0,10.5 C0,16.6 2.6,21 7,21 C11,21 14,18.5 14,14 V11 H8"/><path transform="translate(18.50,0)" d="M7,0 C2.6,0 0,4.4 0,10.5 C0,16.6 2.6,21 7,21 C11.4,21 14,16.6 14,10.5 C14,4.4 11.4,0 7,0 Z"/><path transform="translate(58.00,0)" d="M0,0 H14 M7,0 V21"/><path transform="translate(76.50,0)" d="M7,0 C2.6,0 0,4.4 0,10.5 C0,16.6 2.6,21 7,21 C11.4,21 14,16.6 14,10.5 C14,4.4 11.4,0 7,0 Z"/><path transform="translate(116.00,0)" d="M0,21 V0 H8 C12,0 14,2.5 14,5.5 C14,8.5 12,11 8,11 H0 M7,11 L14,21"/><path transform="translate(134.50,0)" d="M13,0 H0 V21 H13 M0,10 H9"/><path transform="translate(152.00,0)" d="M13.8,3.5 C12.5,1 10,0 7,0 C3,0 0.5,2.2 0.5,5.5 C0.5,9 3.5,10 7,10.5 C11,11 14,12.5 14,16 C14,19.5 11,21 7,21 C4,21 1.4,19.8 0,17.5"/><path transform="translate(170.50,0)" d="M13,0 H0 V21 H13 M0,10 H9"/><path transform="translate(188.00,0)" d="M0,21 V0 H8 C12,0 14,2.5 14,5.5 C14,8.5 12,11 8,11 H0 M7,11 L14,21"/><path transform="translate(206.50,0)" d="M0,0 L7,21 L14,0"/><path transform="translate(225.00,0)" d="M7,0 C2.6,0 0,4.4 0,10.5 C0,16.6 2.6,21 7,21 C11.4,21 14,16.6 14,10.5 C14,4.4 11.4,0 7,0 Z"/><path transform="translate(243.50,0)" d="M1,0 V21"/><path transform="translate(250.00,0)" d="M0,21 V0 H8 C12,0 14,2.5 14,5.5 C14,8.5 12,11 8,11 H0 M7,11 L14,21"/></g>
<g transform="translate(1179.4,1920.8) scale(0.9657,0.9476)" fill="none" stroke="#000" stroke-width="2.139" vector-effect="non-scaling-stroke" class="t"><path transform="translate(0.00,0)" d="M0,0 L7,21 L14,0"/><path transform="translate(18.50,0)" d="M0,21 L7,0 L14,21 M2.6,14 L11.4,14"/><path transform="translate(37.00,0)" d="M0,0 V21 H12"/><path transform="translate(53.50,0)" d="M0,0 L7,21 L14,0"/><path transform="translate(72.00,0)" d="M13,0 H0 V21 H13 M0,10 H9"/><path transform="translate(110.50,0)" d="M1,0 V21"/><path transform="translate(117.00,0)" d="M0,21 V0 L14,21 V0"/><path transform="translate(135.50,0)" d="M0,0 V21 H12"/><path transform="translate(152.00,0)" d="M13,0 H0 V21 H13 M0,10 H9"/><path transform="translate(169.50,0)" d="M0,0 H14 M7,0 V21"/></g>
<g transform="translate(1601.5,2046.8) scale(0.9134,0.9714)" fill="none" stroke="#000" stroke-width="2.139" vector-effect="non-scaling-stroke" class="t"><path transform="translate(0.00,0)" d="M0,21 V0 H8 C12,0 14,2.5 14,5.5 C14,8.5 12,11 8,11 H0"/><path transform="translate(18.50,0)" d="M0,21 V0 H8 C12,0 14,2.5 14,5.5 C14,8.5 12,11 8,11 H0 M7,11 L14,21"/><path transform="translate(37.00,0)" d="M13,0 H0 V21 H13 M0,10 H9"/><path transform="translate(54.50,0)" d="M13.8,3.5 C12.5,1 10,0 7,0 C3,0 0.5,2.2 0.5,5.5 C0.5,9 3.5,10 7,10.5 C11,11 14,12.5 14,16 C14,19.5 11,21 7,21 C4,21 1.4,19.8 0,17.5"/><path transform="translate(73.00,0)" d="M13.8,3.5 C12.5,1 10,0 7,0 C3,0 0.5,2.2 0.5,5.5 C0.5,9 3.5,10 7,10.5 C11,11 14,12.5 14,16 C14,19.5 11,21 7,21 C4,21 1.4,19.8 0,17.5"/><path transform="translate(91.50,0)" d="M0,0 V15 C0,19 3,21 7,21 C11,21 14,19 14,15 V0"/><path transform="translate(110.00,0)" d="M0,21 V0 H8 C12,0 14,2.5 14,5.5 C14,8.5 12,11 8,11 H0 M7,11 L14,21"/><path transform="translate(128.50,0)" d="M13,0 H0 V21 H13 M0,10 H9"/><path transform="translate(167.00,0)" d="M14,5 C13,1.8 10.5,0 7,0 C2.6,0 0,4.4 0,10.5 C0,16.6 2.6,21 7,21 C11,21 14,18.5 14,14 V11 H8"/><path transform="translate(185.50,0)" d="M0,21 L7,0 L14,21 M2.6,14 L11.4,14"/><path transform="translate(204.00,0)" d="M0,0 V15 C0,19 3,21 7,21 C11,21 14,19 14,15 V0"/><path transform="translate(222.50,0)" d="M14,5 C13,1.8 10.5,0 7,0 C2.6,0 0,4.4 0,10.5 C0,16.6 2.6,21 7,21 C11,21 14,18.5 14,14 V11 H8"/><path transform="translate(241.00,0)" d="M13,0 H0 V21 H13 M0,10 H9"/></g>
<g transform="translate(1430.0,2203.7) scale(1.0026,1.1143)" fill="none" stroke="#000" stroke-width="2.139" vector-effect="non-scaling-stroke" class="t"><path transform="translate(0.00,0)" d="M0,21 V0 H8 C12,0 14,2.5 14,5.5 C14,8.5 12,11 8,11 H0"/><path transform="translate(18.50,0)" d="M0,21 V0 H8 C12,0 14,2.5 14,5.5 C14,8.5 12,11 8,11 H0 M7,11 L14,21"/><path transform="translate(37.00,0)" d="M13,0 H0 V21 H13 M0,10 H9"/><path transform="translate(54.50,0)" d="M13.8,3.5 C12.5,1 10,0 7,0 C3,0 0.5,2.2 0.5,5.5 C0.5,9 3.5,10 7,10.5 C11,11 14,12.5 14,16 C14,19.5 11,21 7,21 C4,21 1.4,19.8 0,17.5"/><path transform="translate(73.00,0)" d="M13.8,3.5 C12.5,1 10,0 7,0 C3,0 0.5,2.2 0.5,5.5 C0.5,9 3.5,10 7,10.5 C11,11 14,12.5 14,16 C14,19.5 11,21 7,21 C4,21 1.4,19.8 0,17.5"/><path transform="translate(91.50,0)" d="M0,0 V15 C0,19 3,21 7,21 C11,21 14,19 14,15 V0"/><path transform="translate(110.00,0)" d="M0,21 V0 H8 C12,0 14,2.5 14,5.5 C14,8.5 12,11 8,11 H0 M7,11 L14,21"/><path transform="translate(128.50,0)" d="M13,0 H0 V21 H13 M0,10 H9"/><path transform="translate(167.00,0)" d="M0,21 V0 H8 C12,0 14,2.5 14,5.5 C14,8.5 12,11 8,11 H0 M7,11 L14,21"/><path transform="translate(185.50,0)" d="M13,0 H0 V21 H13 M0,10 H9"/><path transform="translate(203.00,0)" d="M0,0 V21 H12"/><path transform="translate(219.50,0)" d="M13,0 H0 V21 H13 M0,10 H9"/><path transform="translate(237.00,0)" d="M0,21 L7,0 L14,21 M2.6,14 L11.4,14"/><path transform="translate(255.50,0)" d="M13.8,3.5 C12.5,1 10,0 7,0 C3,0 0.5,2.2 0.5,5.5 C0.5,9 3.5,10 7,10.5 C11,11 14,12.5 14,16 C14,19.5 11,21 7,21 C4,21 1.4,19.8 0,17.5"/><path transform="translate(274.00,0)" d="M13,0 H0 V21 H13 M0,10 H9"/><path transform="translate(312.50,0)" d="M0,0 V21 H6 C11,21 14,17 14,10.5 C14,4 11,0 6,0 Z"/><path transform="translate(331.00,0)" d="M13,0 H0 V21 H13 M0,10 H9"/><path transform="translate(348.50,0)" d="M0,0 H14 M7,0 V21"/><path transform="translate(367.00,0)" d="M13,0 H0 V21 H13 M0,10 H9"/><path transform="translate(384.50,0)" d="M0,21 V0 L14,21 V0"/><path transform="translate(403.00,0)" d="M0,0 H14 M7,0 V21"/><path transform="translate(421.50,0)" d="M2.4,17.6 V21" style="stroke-width:4.06px"/></g>
<g transform="translate(1430.0,2241.0) scale(0.9935,1.1143)" fill="none" stroke="#000" stroke-width="2.139" vector-effect="non-scaling-stroke" class="t"><path transform="translate(0.00,0)" d="M0,0 H14 M7,0 V21"/><path transform="translate(18.50,0)" d="M0,0 V21 M14,0 V21 M0,10 H14"/><path transform="translate(37.00,0)" d="M1,0 V21"/><path transform="translate(43.50,0)" d="M13.8,3.5 C12.5,1 10,0 7,0 C3,0 0.5,2.2 0.5,5.5 C0.5,9 3.5,10 7,10.5 C11,11 14,12.5 14,16 C14,19.5 11,21 7,21 C4,21 1.4,19.8 0,17.5"/><path transform="translate(83.00,0)" d="M13.8,3.5 C12.5,1 10,0 7,0 C3,0 0.5,2.2 0.5,5.5 C0.5,9 3.5,10 7,10.5 C11,11 14,12.5 14,16 C14,19.5 11,21 7,21 C4,21 1.4,19.8 0,17.5"/><path transform="translate(101.50,0)" d="M13,0 H0 V21 H13 M0,10 H9"/><path transform="translate(119.00,0)" d="M0,0 H14 M7,0 V21"/><path transform="translate(137.50,0)" d="M13.8,3.5 C12.5,1 10,0 7,0 C3,0 0.5,2.2 0.5,5.5 C0.5,9 3.5,10 7,10.5 C11,11 14,12.5 14,16 C14,19.5 11,21 7,21 C4,21 1.4,19.8 0,17.5"/><path transform="translate(177.00,0)" d="M0,0 H14 M7,0 V21"/><path transform="translate(195.50,0)" d="M0,0 V21 M14,0 V21 M0,10 H14"/><path transform="translate(214.00,0)" d="M13,0 H0 V21 H13 M0,10 H9"/><path transform="translate(252.50,0)" d="M0,21 V0 H8 C12,0 14,2.5 14,5.5 C14,8.5 12,11 8,11 H0"/><path transform="translate(271.00,0)" d="M0,21 V0 H8 C12,0 14,2.5 14,5.5 C14,8.5 12,11 8,11 H0 M7,11 L14,21"/><path transform="translate(289.50,0)" d="M13,0 H0 V21 H13 M0,10 H9"/><path transform="translate(307.00,0)" d="M13.8,3.5 C12.5,1 10,0 7,0 C3,0 0.5,2.2 0.5,5.5 C0.5,9 3.5,10 7,10.5 C11,11 14,12.5 14,16 C14,19.5 11,21 7,21 C4,21 1.4,19.8 0,17.5"/><path transform="translate(325.50,0)" d="M13.8,3.5 C12.5,1 10,0 7,0 C3,0 0.5,2.2 0.5,5.5 C0.5,9 3.5,10 7,10.5 C11,11 14,12.5 14,16 C14,19.5 11,21 7,21 C4,21 1.4,19.8 0,17.5"/><path transform="translate(344.00,0)" d="M0,0 V15 C0,19 3,21 7,21 C11,21 14,19 14,15 V0"/><path transform="translate(362.50,0)" d="M0,21 V0 H8 C12,0 14,2.5 14,5.5 C14,8.5 12,11 8,11 H0 M7,11 L14,21"/><path transform="translate(381.00,0)" d="M13,0 H0 V21 H13 M0,10 H9"/><path transform="translate(419.50,0)" d="M0,21 L7,0 L14,21 M2.6,14 L11.4,14"/><path transform="translate(438.00,0)" d="M0,0 H14 M7,0 V21"/><path transform="translate(477.50,0)" d="M0,0 L4.5,21 L9,0 L13.5,21 L18,0"/><path transform="translate(500.00,0)" d="M0,0 V21 M14,0 V21 M0,10 H14"/><path transform="translate(518.50,0)" d="M1,0 V21"/><path transform="translate(525.00,0)" d="M14,5 C13,1.8 10.5,0 7,0 C2.6,0 0,4.4 0,10.5 C0,16.6 2.6,21 7,21 C10.5,21 13,19.2 14,16"/><path transform="translate(543.50,0)" d="M0,0 V21 M14,0 V21 M0,10 H14"/></g>
<g transform="translate(1430.0,2278.3) scale(0.9994,1.1143)" fill="none" stroke="#000" stroke-width="2.139" vector-effect="non-scaling-stroke" class="t"><path transform="translate(0.00,0)" d="M0,0 H14 M7,0 V21"/><path transform="translate(18.50,0)" d="M0,0 V21 M14,0 V21 M0,10 H14"/><path transform="translate(37.00,0)" d="M13,0 H0 V21 H13 M0,10 H9"/><path transform="translate(75.50,0)" d="M0,0 V21 H6 C11,21 14,17 14,10.5 C14,4 11,0 6,0 Z"/><path transform="translate(94.00,0)" d="M13,0 H0 V21 H13 M0,10 H9"/><path transform="translate(111.50,0)" d="M0,0 H14 M7,0 V21"/><path transform="translate(130.00,0)" d="M13,0 H0 V21 H13 M0,10 H9"/><path transform="translate(147.50,0)" d="M0,21 V0 L14,21 V0"/><path transform="translate(166.00,0)" d="M0,0 H14 M7,0 V21"/><path transform="translate(205.50,0)" d="M0,0 V21 M14,0 L0,14 M5,9 L14,21"/><path transform="translate(224.00,0)" d="M1,0 V21"/><path transform="translate(230.50,0)" d="M14,5 C13,1.8 10.5,0 7,0 C2.6,0 0,4.4 0,10.5 C0,16.6 2.6,21 7,21 C10.5,21 13,19.2 14,16"/><path transform="translate(249.00,0)" d="M0,0 V21 M14,0 L0,14 M5,9 L14,21"/><path transform="translate(267.50,0)" d="M13.8,3.5 C12.5,1 10,0 7,0 C3,0 0.5,2.2 0.5,5.5 C0.5,9 3.5,10 7,10.5 C11,11 14,12.5 14,16 C14,19.5 11,21 7,21 C4,21 1.4,19.8 0,17.5"/><path transform="translate(307.00,0)" d="M7,0 C2.6,0 0,4.4 0,10.5 C0,16.6 2.6,21 7,21 C11.4,21 14,16.6 14,10.5 C14,4.4 11.4,0 7,0 Z"/><path transform="translate(325.50,0)" d="M0,0 V15 C0,19 3,21 7,21 C11,21 14,19 14,15 V0"/><path transform="translate(344.00,0)" d="M0,0 H14 M7,0 V21"/><path transform="translate(383.50,0)" d="M0,21 L7,0 L14,21 M2.6,14 L11.4,14"/><path transform="translate(402.00,0)" d="M0,0 V21 H12"/><path transform="translate(418.50,0)" d="M0,0 V21 H12"/><path transform="translate(435.00,0)" d="M7,0 C2.6,0 0,4.4 0,10.5 C0,16.6 2.6,21 7,21 C11.4,21 14,16.6 14,10.5 C14,4.4 11.4,0 7,0 Z"/><path transform="translate(453.50,0)" d="M0,0 L4.5,21 L9,0 L13.5,21 L18,0"/><path transform="translate(476.00,0)" d="M1,0 V21"/><path transform="translate(482.50,0)" d="M0,21 V0 L14,21 V0"/><path transform="translate(501.00,0)" d="M14,5 C13,1.8 10.5,0 7,0 C2.6,0 0,4.4 0,10.5 C0,16.6 2.6,21 7,21 C11,21 14,18.5 14,14 V11 H8"/></g>
<g transform="translate(1430.0,2313.8) scale(0.9759,1.1143)" fill="none" stroke="#000" stroke-width="2.139" vector-effect="non-scaling-stroke" class="t"><path transform="translate(0.00,0)" d="M0,0 L7,21 L14,0"/><path transform="translate(18.50,0)" d="M0,21 L7,0 L14,21 M2.6,14 L11.4,14"/><path transform="translate(37.00,0)" d="M0,0 V21 H12"/><path transform="translate(53.50,0)" d="M0,0 L7,21 L14,0"/><path transform="translate(72.00,0)" d="M13,0 H0 V21 H13 M0,10 H9"/><path transform="translate(110.50,0)" d="M0,0 H14 M7,0 V21"/><path transform="translate(129.00,0)" d="M7,0 C2.6,0 0,4.4 0,10.5 C0,16.6 2.6,21 7,21 C11.4,21 14,16.6 14,10.5 C14,4.4 11.4,0 7,0 Z"/><path transform="translate(168.50,0)" d="M0,21 V0 H8 C12,0 14,2.5 14,5.5 C14,8.5 12,11 8,11 H0 M7,11 L14,21"/><path transform="translate(187.00,0)" d="M13,0 H0 V21 H13 M0,10 H9"/><path transform="translate(204.50,0)" d="M0,0 H14 M7,0 V21"/><path transform="translate(223.00,0)" d="M0,0 V15 C0,19 3,21 7,21 C11,21 14,19 14,15 V0"/><path transform="translate(241.50,0)" d="M0,21 V0 H8 C12,0 14,2.5 14,5.5 C14,8.5 12,11 8,11 H0 M7,11 L14,21"/><path transform="translate(260.00,0)" d="M0,21 V0 L14,21 V0"/><path transform="translate(299.50,0)" d="M0,0 H14 M7,0 V21"/><path transform="translate(318.00,0)" d="M7,0 C2.6,0 0,4.4 0,10.5 C0,16.6 2.6,21 7,21 C11.4,21 14,16.6 14,10.5 C14,4.4 11.4,0 7,0 Z"/><path transform="translate(357.50,0)" d="M0,21 V0 L14,21 V0"/><path transform="translate(376.00,0)" d="M13,0 H0 V21 H13 M0,10 H9"/><path transform="translate(393.50,0)" d="M0,0 V15 C0,19 3,21 7,21 C11,21 14,19 14,15 V0"/><path transform="translate(412.00,0)" d="M0,0 H14 M7,0 V21"/><path transform="translate(430.50,0)" d="M0,21 V0 H8 C12,0 14,2.5 14,5.5 C14,8.5 12,11 8,11 H0 M7,11 L14,21"/><path transform="translate(449.00,0)" d="M0,21 L7,0 L14,21 M2.6,14 L11.4,14"/><path transform="translate(467.50,0)" d="M0,0 V21 H12"/><path transform="translate(484.00,0)" d="M2.4,17.6 V21" style="stroke-width:4.06px"/></g>
<g transform="translate(200.9,2425.4) scale(1.1723,1.3286)" fill="none" stroke="#000" stroke-width="2.232" vector-effect="non-scaling-stroke" class="t"><path transform="translate(0.00,0)" d="M0,0 V21 H12"/><path transform="translate(16.50,0)" d="M13.8,3.5 C12.5,1 10,0 7,0 C3,0 0.5,2.2 0.5,5.5 C0.5,9 3.5,10 7,10.5 C11,11 14,12.5 14,16 C14,19.5 11,21 7,21 C4,21 1.4,19.8 0,17.5"/><path transform="translate(35.00,0)" d="M0,10.5 H14"/><path transform="translate(53.50,0)" d="M1,0 H13 L6.5,8.5 C11,8.5 14,11 14,15 C14,19 11,21 7,21 C4,21 1.4,19.8 0,17.5"/><path transform="translate(72.00,0)" d="M7,0 C2.6,0 0,4 0,10.5 C0,17 2.6,21 7,21 C11.4,21 14,17 14,10.5 C14,4 11.4,0 7,0 Z"/><path transform="translate(90.50,0)" d="M7,0 C2.6,0 0,4 0,10.5 C0,17 2.6,21 7,21 C11.4,21 14,17 14,10.5 C14,4 11.4,0 7,0 Z"/><path transform="translate(109.00,0)" d="M7,0 C2.6,0 0,4 0,10.5 C0,17 2.6,21 7,21 C11.4,21 14,17 14,10.5 C14,4 11.4,0 7,0 Z"/><path transform="translate(148.50,0)" d="M13.8,3.5 C12.5,1 10,0 7,0 C3,0 0.5,2.2 0.5,5.5 C0.5,9 3.5,10 7,10.5 C11,11 14,12.5 14,16 C14,19.5 11,21 7,21 C4,21 1.4,19.8 0,17.5"/><path transform="translate(167.00,0)" d="M0,21 V0 H8 C12,0 14,2.5 14,5.5 C14,8.5 12,11 8,11 H0"/><path transform="translate(185.50,0)" d="M13,0 H0 V21 H13 M0,10 H9"/><path transform="translate(203.00,0)" d="M14,5 C13,1.8 10.5,0 7,0 C2.6,0 0,4.4 0,10.5 C0,16.6 2.6,21 7,21 C10.5,21 13,19.2 14,16"/><path transform="translate(221.50,0)" d="M1,0 V21"/><path transform="translate(228.00,0)" d="M13,0 H0 V21 M0,10 H9"/><path transform="translate(245.50,0)" d="M1,0 V21"/><path transform="translate(252.00,0)" d="M14,5 C13,1.8 10.5,0 7,0 C2.6,0 0,4.4 0,10.5 C0,16.6 2.6,21 7,21 C10.5,21 13,19.2 14,16"/><path transform="translate(270.50,0)" d="M0,21 L7,0 L14,21 M2.6,14 L11.4,14"/><path transform="translate(289.00,0)" d="M0,0 H14 M7,0 V21"/><path transform="translate(307.50,0)" d="M1,0 V21"/><path transform="translate(314.00,0)" d="M7,0 C2.6,0 0,4.4 0,10.5 C0,16.6 2.6,21 7,21 C11.4,21 14,16.6 14,10.5 C14,4.4 11.4,0 7,0 Z"/><path transform="translate(332.50,0)" d="M0,21 V0 L14,21 V0"/><path transform="translate(351.00,0)" d="M13.8,3.5 C12.5,1 10,0 7,0 C3,0 0.5,2.2 0.5,5.5 C0.5,9 3.5,10 7,10.5 C11,11 14,12.5 14,16 C14,19.5 11,21 7,21 C4,21 1.4,19.8 0,17.5"/></g>
<g transform="translate(200.9,2472.5) scale(1.1773,1.3286)" fill="none" stroke="#000" stroke-width="2.232" vector-effect="non-scaling-stroke" class="t"><path transform="translate(0.00,0)" d="M0,21 V0 L8,21 L16,0 V21"/><path transform="translate(20.50,0)" d="M0,21 L7,0 L14,21 M2.6,14 L11.4,14"/><path transform="translate(39.00,0)" d="M0,0 L14,21 M14,0 L0,21"/><path transform="translate(57.50,0)" d="M1,0 V21"/><path transform="translate(64.00,0)" d="M0,21 V0 L8,21 L16,0 V21"/><path transform="translate(84.50,0)" d="M0,0 V15 C0,19 3,21 7,21 C11,21 14,19 14,15 V0"/><path transform="translate(103.00,0)" d="M0,21 V0 L8,21 L16,0 V21"/><path transform="translate(144.50,0)" d="M7,0 C2.6,0 0,4.4 0,10.5 C0,16.6 2.6,21 7,21 C11.4,21 14,16.6 14,10.5 C14,4.4 11.4,0 7,0 Z"/><path transform="translate(163.00,0)" d="M0,21 V0 H8 C12,0 14,2.5 14,5.5 C14,8.5 12,11 8,11 H0"/><path transform="translate(181.50,0)" d="M13,0 H0 V21 H13 M0,10 H9"/><path transform="translate(199.00,0)" d="M0,21 V0 H8 C12,0 14,2.5 14,5.5 C14,8.5 12,11 8,11 H0 M7,11 L14,21"/><path transform="translate(217.50,0)" d="M0,21 L7,0 L14,21 M2.6,14 L11.4,14"/><path transform="translate(236.00,0)" d="M0,0 H14 M7,0 V21"/><path transform="translate(254.50,0)" d="M1,0 V21"/><path transform="translate(261.00,0)" d="M0,21 V0 L14,21 V0"/><path transform="translate(279.50,0)" d="M14,5 C13,1.8 10.5,0 7,0 C2.6,0 0,4.4 0,10.5 C0,16.6 2.6,21 7,21 C11,21 14,18.5 14,14 V11 H8"/><path transform="translate(319.00,0)" d="M0,21 V0 H8 C12,0 14,2.5 14,5.5 C14,8.5 12,11 8,11 H0"/><path transform="translate(337.50,0)" d="M0,21 V0 H8 C12,0 14,2.5 14,5.5 C14,8.5 12,11 8,11 H0 M7,11 L14,21"/><path transform="translate(356.00,0)" d="M13,0 H0 V21 H13 M0,10 H9"/><path transform="translate(373.50,0)" d="M13.8,3.5 C12.5,1 10,0 7,0 C3,0 0.5,2.2 0.5,5.5 C0.5,9 3.5,10 7,10.5 C11,11 14,12.5 14,16 C14,19.5 11,21 7,21 C4,21 1.4,19.8 0,17.5"/><path transform="translate(392.00,0)" d="M13.8,3.5 C12.5,1 10,0 7,0 C3,0 0.5,2.2 0.5,5.5 C0.5,9 3.5,10 7,10.5 C11,11 14,12.5 14,16 C14,19.5 11,21 7,21 C4,21 1.4,19.8 0,17.5"/><path transform="translate(410.50,0)" d="M0,0 V15 C0,19 3,21 7,21 C11,21 14,19 14,15 V0"/><path transform="translate(429.00,0)" d="M0,21 V0 H8 C12,0 14,2.5 14,5.5 C14,8.5 12,11 8,11 H0 M7,11 L14,21"/><path transform="translate(447.50,0)" d="M13,0 H0 V21 H13 M0,10 H9"/><path transform="translate(465.00,0)" d="M2.4,17.6 V21" style="stroke-width:4.24px"/><path transform="translate(474.50,0)" d="M2.4,17.6 V21" style="stroke-width:4.24px"/><path transform="translate(484.00,0)" d="M2.4,17.6 V21" style="stroke-width:4.24px"/><path transform="translate(493.50,0)" d="M2.4,17.6 V21" style="stroke-width:4.24px"/><path transform="translate(503.00,0)" d="M2.4,17.6 V21" style="stroke-width:4.24px"/><path transform="translate(512.50,0)" d="M2.4,17.6 V21" style="stroke-width:4.24px"/><path transform="translate(522.00,0)" d="M2.4,17.6 V21" style="stroke-width:4.24px"/><path transform="translate(531.50,0)" d="M2.4,17.6 V21" style="stroke-width:4.24px"/><path transform="translate(541.00,0)" d="M2.4,17.6 V21" style="stroke-width:4.24px"/><path transform="translate(550.50,0)" d="M2.4,17.6 V21" style="stroke-width:4.24px"/><path transform="translate(560.00,0)" d="M2.4,17.6 V21" style="stroke-width:4.24px"/><path transform="translate(569.50,0)" d="M2.4,17.6 V21" style="stroke-width:4.24px"/><path transform="translate(579.00,0)" d="M2.4,17.6 V21" style="stroke-width:4.24px"/><path transform="translate(588.50,0)" d="M0.5,5 C0.5,2 3,0 7,0 C11,0 13.5,2.2 13.5,5.5 C13.5,9 11,11 7,13.5 L0,21 H14"/><path transform="translate(607.00,0)" d="M0,0 H14 L5,21"/><path transform="translate(625.50,0)" d="M13,0 H2 L1,9.5 C2.5,8.5 4.5,8 7,8 C11,8 14,10.5 14,14.5 C14,18.5 11,21 7,21 C4,21 1.4,19.8 0,17.5"/><path transform="translate(644.00,0)" d="M7,0 C2.6,0 0,4 0,10.5 C0,17 2.6,21 7,21 C11.4,21 14,17 14,10.5 C14,4 11.4,0 7,0 Z"/><path transform="translate(683.50,0)" d="M0,21 V0 H8 C12,0 14,2.5 14,5.5 C14,8.5 12,11 8,11 H0"/><path transform="translate(702.00,0)" d="M13.8,3.5 C12.5,1 10,0 7,0 C3,0 0.5,2.2 0.5,5.5 C0.5,9 3.5,10 7,10.5 C11,11 14,12.5 14,16 C14,19.5 11,21 7,21 C4,21 1.4,19.8 0,17.5"/><path transform="translate(720.50,0)" d="M1,0 V21"/></g>
<g transform="translate(200.9,2518.4) scale(1.1620,1.3286)" fill="none" stroke="#000" stroke-width="2.232" vector-effect="non-scaling-stroke" class="t"><path transform="translate(0.00,0)" d="M0,21 V0 L8,21 L16,0 V21"/><path transform="translate(20.50,0)" d="M0,21 L7,0 L14,21 M2.6,14 L11.4,14"/><path transform="translate(39.00,0)" d="M0,0 L14,21 M14,0 L0,21"/><path transform="translate(57.50,0)" d="M0,21 V0 L8,21 L16,0 V21"/><path transform="translate(78.00,0)" d="M0,0 V15 C0,19 3,21 7,21 C11,21 14,19 14,15 V0"/><path transform="translate(96.50,0)" d="M0,21 V0 L8,21 L16,0 V21"/><path transform="translate(138.00,0)" d="M0,0 H14 M7,0 V21"/><path transform="translate(156.50,0)" d="M0,21 L7,0 L14,21 M2.6,14 L11.4,14"/><path transform="translate(175.00,0)" d="M0,21 V0 L14,21 V0"/><path transform="translate(193.50,0)" d="M0,0 V21 M14,0 L0,14 M5,9 L14,21"/><path transform="translate(233.00,0)" d="M0,21 V0 H8 C12,0 14,2.5 14,5.5 C14,8.5 12,11 8,11 H0"/><path transform="translate(251.50,0)" d="M0,21 V0 H8 C12,0 14,2.5 14,5.5 C14,8.5 12,11 8,11 H0 M7,11 L14,21"/><path transform="translate(270.00,0)" d="M13,0 H0 V21 H13 M0,10 H9"/><path transform="translate(287.50,0)" d="M13.8,3.5 C12.5,1 10,0 7,0 C3,0 0.5,2.2 0.5,5.5 C0.5,9 3.5,10 7,10.5 C11,11 14,12.5 14,16 C14,19.5 11,21 7,21 C4,21 1.4,19.8 0,17.5"/><path transform="translate(306.00,0)" d="M13.8,3.5 C12.5,1 10,0 7,0 C3,0 0.5,2.2 0.5,5.5 C0.5,9 3.5,10 7,10.5 C11,11 14,12.5 14,16 C14,19.5 11,21 7,21 C4,21 1.4,19.8 0,17.5"/><path transform="translate(324.50,0)" d="M0,0 V15 C0,19 3,21 7,21 C11,21 14,19 14,15 V0"/><path transform="translate(343.00,0)" d="M0,21 V0 H8 C12,0 14,2.5 14,5.5 C14,8.5 12,11 8,11 H0 M7,11 L14,21"/><path transform="translate(361.50,0)" d="M13,0 H0 V21 H13 M0,10 H9"/><path transform="translate(379.00,0)" d="M2.4,17.6 V21" style="stroke-width:4.24px"/><path transform="translate(388.50,0)" d="M2.4,17.6 V21" style="stroke-width:4.24px"/><path transform="translate(398.00,0)" d="M2.4,17.6 V21" style="stroke-width:4.24px"/><path transform="translate(407.50,0)" d="M2.4,17.6 V21" style="stroke-width:4.24px"/><path transform="translate(417.00,0)" d="M2.4,17.6 V21" style="stroke-width:4.24px"/><path transform="translate(426.50,0)" d="M2.4,17.6 V21" style="stroke-width:4.24px"/><path transform="translate(436.00,0)" d="M2.4,17.6 V21" style="stroke-width:4.24px"/><path transform="translate(445.50,0)" d="M2.4,17.6 V21" style="stroke-width:4.24px"/><path transform="translate(455.00,0)" d="M2.4,17.6 V21" style="stroke-width:4.24px"/><path transform="translate(464.50,0)" d="M2.4,17.6 V21" style="stroke-width:4.24px"/><path transform="translate(474.00,0)" d="M2.4,17.6 V21" style="stroke-width:4.24px"/><path transform="translate(483.50,0)" d="M2.4,17.6 V21" style="stroke-width:4.24px"/><path transform="translate(493.00,0)" d="M2.4,17.6 V21" style="stroke-width:4.24px"/><path transform="translate(502.50,0)" d="M2.4,17.6 V21" style="stroke-width:4.24px"/><path transform="translate(512.00,0)" d="M2.4,17.6 V21" style="stroke-width:4.24px"/><path transform="translate(521.50,0)" d="M2.4,17.6 V21" style="stroke-width:4.24px"/><path transform="translate(531.00,0)" d="M2.4,17.6 V21" style="stroke-width:4.24px"/><path transform="translate(540.50,0)" d="M2.4,17.6 V21" style="stroke-width:4.24px"/><path transform="translate(550.00,0)" d="M2.4,17.6 V21" style="stroke-width:4.24px"/><path transform="translate(559.50,0)" d="M2.4,17.6 V21" style="stroke-width:4.24px"/><path transform="translate(569.00,0)" d="M2.4,17.6 V21" style="stroke-width:4.24px"/><path transform="translate(578.50,0)" d="M2.4,17.6 V21" style="stroke-width:4.24px"/><path transform="translate(588.00,0)" d="M2.4,17.6 V21" style="stroke-width:4.24px"/><path transform="translate(597.50,0)" d="M2.4,17.6 V21" style="stroke-width:4.24px"/><path transform="translate(607.00,0)" d="M2.4,17.6 V21" style="stroke-width:4.24px"/><path transform="translate(616.50,0)" d="M13,0 H2 L1,9.5 C2.5,8.5 4.5,8 7,8 C11,8 14,10.5 14,14.5 C14,18.5 11,21 7,21 C4,21 1.4,19.8 0,17.5"/><path transform="translate(635.00,0)" d="M7,0 C2.6,0 0,4 0,10.5 C0,17 2.6,21 7,21 C11.4,21 14,17 14,10.5 C14,4 11.4,0 7,0 Z"/><path transform="translate(653.50,0)" d="M7,0 C2.6,0 0,4 0,10.5 C0,17 2.6,21 7,21 C11.4,21 14,17 14,10.5 C14,4 11.4,0 7,0 Z"/><path transform="translate(693.00,0)" d="M0,21 V0 H8 C12,0 14,2.5 14,5.5 C14,8.5 12,11 8,11 H0"/><path transform="translate(711.50,0)" d="M13.8,3.5 C12.5,1 10,0 7,0 C3,0 0.5,2.2 0.5,5.5 C0.5,9 3.5,10 7,10.5 C11,11 14,12.5 14,16 C14,19.5 11,21 7,21 C4,21 1.4,19.8 0,17.5"/><path transform="translate(730.00,0)" d="M1,0 V21"/></g>
<g transform="translate(200.9,2564.2) scale(1.1743,1.3286)" fill="none" stroke="#000" stroke-width="2.232" vector-effect="non-scaling-stroke" class="t"><path transform="translate(0.00,0)" d="M0,21 V0 L8,21 L16,0 V21"/><path transform="translate(20.50,0)" d="M0,21 L7,0 L14,21 M2.6,14 L11.4,14"/><path transform="translate(39.00,0)" d="M0,0 L14,21 M14,0 L0,21"/><path transform="translate(57.50,0)" d="M1,0 V21"/><path transform="translate(64.00,0)" d="M0,21 V0 L8,21 L16,0 V21"/><path transform="translate(84.50,0)" d="M0,0 V15 C0,19 3,21 7,21 C11,21 14,19 14,15 V0"/><path transform="translate(103.00,0)" d="M0,21 V0 L8,21 L16,0 V21"/><path transform="translate(144.50,0)" d="M7,0 C2.6,0 0,4.4 0,10.5 C0,16.6 2.6,21 7,21 C11.4,21 14,16.6 14,10.5 C14,4.4 11.4,0 7,0 Z"/><path transform="translate(163.00,0)" d="M0,21 V0 H8 C12,0 14,2.5 14,5.5 C14,8.5 12,11 8,11 H0"/><path transform="translate(181.50,0)" d="M13,0 H0 V21 H13 M0,10 H9"/><path transform="translate(199.00,0)" d="M0,21 V0 H8 C12,0 14,2.5 14,5.5 C14,8.5 12,11 8,11 H0 M7,11 L14,21"/><path transform="translate(217.50,0)" d="M0,21 L7,0 L14,21 M2.6,14 L11.4,14"/><path transform="translate(236.00,0)" d="M0,0 H14 M7,0 V21"/><path transform="translate(254.50,0)" d="M1,0 V21"/><path transform="translate(261.00,0)" d="M0,21 V0 L14,21 V0"/><path transform="translate(279.50,0)" d="M14,5 C13,1.8 10.5,0 7,0 C2.6,0 0,4.4 0,10.5 C0,16.6 2.6,21 7,21 C11,21 14,18.5 14,14 V11 H8"/><path transform="translate(319.00,0)" d="M0,0 H14 M7,0 V21"/><path transform="translate(337.50,0)" d="M13,0 H0 V21 H13 M0,10 H9"/><path transform="translate(355.00,0)" d="M0,21 V0 L8,21 L16,0 V21"/><path transform="translate(375.50,0)" d="M0,21 V0 H8 C12,0 14,2.5 14,5.5 C14,8.5 12,11 8,11 H0"/><path transform="translate(394.00,0)" d="M2.4,17.6 V21" style="stroke-width:4.24px"/><path transform="translate(403.50,0)" d="M2.4,17.6 V21" style="stroke-width:4.24px"/><path transform="translate(413.00,0)" d="M2.4,17.6 V21" style="stroke-width:4.24px"/><path transform="translate(422.50,0)" d="M2.4,17.6 V21" style="stroke-width:4.24px"/><path transform="translate(432.00,0)" d="M2.4,17.6 V21" style="stroke-width:4.24px"/><path transform="translate(441.50,0)" d="M2.4,17.6 V21" style="stroke-width:4.24px"/><path transform="translate(451.00,0)" d="M2.4,17.6 V21" style="stroke-width:4.24px"/><path transform="translate(460.50,0)" d="M2.4,17.6 V21" style="stroke-width:4.24px"/><path transform="translate(470.00,0)" d="M2.4,17.6 V21" style="stroke-width:4.24px"/><path transform="translate(479.50,0)" d="M2.4,17.6 V21" style="stroke-width:4.24px"/><path transform="translate(489.00,0)" d="M2.4,17.6 V21" style="stroke-width:4.24px"/><path transform="translate(498.50,0)" d="M2.4,17.6 V21" style="stroke-width:4.24px"/><path transform="translate(508.00,0)" d="M2.4,17.6 V21" style="stroke-width:4.24px"/><path transform="translate(517.50,0)" d="M2.4,17.6 V21" style="stroke-width:4.24px"/><path transform="translate(527.00,0)" d="M2.4,17.6 V21" style="stroke-width:4.24px"/><path transform="translate(536.50,0)" d="M2.4,17.6 V21" style="stroke-width:4.24px"/><path transform="translate(546.00,0)" d="M2.4,17.6 V21" style="stroke-width:4.24px"/><path transform="translate(555.50,0)" d="M2.4,17.6 V21" style="stroke-width:4.24px"/><path transform="translate(565.00,0)" d="M2.4,17.6 V21" style="stroke-width:4.24px"/><path transform="translate(574.50,0)" d="M2.4,17.6 V21" style="stroke-width:4.24px"/><path transform="translate(584.00,0)" d="M2.4,17.6 V21" style="stroke-width:4.24px"/><path transform="translate(593.50,0)" d="M2.4,17.6 V21" style="stroke-width:4.24px"/><path transform="translate(603.00,0)" d="M2.4,17.6 V21" style="stroke-width:4.24px"/><path transform="translate(612.50,0)" d="M2.4,17.6 V21" style="stroke-width:4.24px"/><path transform="translate(622.00,0)" d="M2.4,17.6 V21" style="stroke-width:4.24px"/><path transform="translate(631.50,0)" d="M2.4,17.6 V21" style="stroke-width:4.24px"/><path transform="translate(641.00,0)" d="M3,4 L7,0 V21"/><path transform="translate(652.50,0)" d="M7,0 C3.5,0 1,2 1,5 C1,8 3.5,10 7,10 C10.5,10 13,8 13,5 C13,2 10.5,0 7,0 Z M7,10 C3,10 0,12.5 0,15.5 C0,19 3,21 7,21 C11,21 14,19 14,15.5 C14,12.5 11,10 7,10 Z"/><path transform="translate(671.00,0)" d="M7,0 C2.6,0 0,4 0,10.5 C0,17 2.6,21 7,21 C11.4,21 14,17 14,10.5 C14,4 11.4,0 7,0 Z"/><path transform="translate(689.50,0)" d="M2,0 C3.1,0 4,0.9 4,2 C4,3.1 3.1,4 2,4 C0.9,4 0,3.1 0,2 C0,0.9 0.9,0 2,0 Z"/><path transform="translate(698.00,0)" d="M13,0 H0 V21 M0,10 H9"/></g>
<g transform="translate(200.9,2611.3) scale(1.1714,1.3286)" fill="none" stroke="#000" stroke-width="2.232" vector-effect="non-scaling-stroke" class="t"><path transform="translate(0.00,0)" d="M0,21 V0 H8 C12,0 14,2.5 14,5.5 C14,8.5 12,11 8,11 H0 M7,11 L14,21"/><path transform="translate(18.50,0)" d="M13,0 H0 V21 H13 M0,10 H9"/><path transform="translate(36.00,0)" d="M14,5 C13,1.8 10.5,0 7,0 C2.6,0 0,4.4 0,10.5 C0,16.6 2.6,21 7,21 C10.5,21 13,19.2 14,16"/><path transform="translate(54.50,0)" d="M7,0 C2.6,0 0,4.4 0,10.5 C0,16.6 2.6,21 7,21 C11.4,21 14,16.6 14,10.5 C14,4.4 11.4,0 7,0 Z"/><path transform="translate(73.00,0)" d="M0,21 V0 L8,21 L16,0 V21"/><path transform="translate(93.50,0)" d="M0,21 V0 L8,21 L16,0 V21"/><path transform="translate(114.00,0)" d="M13,0 H0 V21 H13 M0,10 H9"/><path transform="translate(131.50,0)" d="M0,21 V0 L14,21 V0"/><path transform="translate(150.00,0)" d="M0,0 V21 H6 C11,21 14,17 14,10.5 C14,4 11,0 6,0 Z"/><path transform="translate(168.50,0)" d="M13,0 H0 V21 H13 M0,10 H9"/><path transform="translate(186.00,0)" d="M0,0 V21 H6 C11,21 14,17 14,10.5 C14,4 11,0 6,0 Z"/><path transform="translate(225.50,0)" d="M13.8,3.5 C12.5,1 10,0 7,0 C3,0 0.5,2.2 0.5,5.5 C0.5,9 3.5,10 7,10.5 C11,11 14,12.5 14,16 C14,19.5 11,21 7,21 C4,21 1.4,19.8 0,17.5"/><path transform="translate(244.00,0)" d="M0,0 L7,10.5 V21 M14,0 L7,10.5"/><path transform="translate(262.50,0)" d="M13.8,3.5 C12.5,1 10,0 7,0 C3,0 0.5,2.2 0.5,5.5 C0.5,9 3.5,10 7,10.5 C11,11 14,12.5 14,16 C14,19.5 11,21 7,21 C4,21 1.4,19.8 0,17.5"/><path transform="translate(281.00,0)" d="M0,0 H14 M7,0 V21"/><path transform="translate(299.50,0)" d="M13,0 H0 V21 H13 M0,10 H9"/><path transform="translate(317.00,0)" d="M0,21 V0 L8,21 L16,0 V21"/><path transform="translate(358.50,0)" d="M13,0 H0 V21 M0,10 H9"/><path transform="translate(376.00,0)" d="M1,0 V21"/><path transform="translate(382.50,0)" d="M0,0 V21 H12"/><path transform="translate(399.00,0)" d="M0,0 H14 M7,0 V21"/><path transform="translate(417.50,0)" d="M0,21 V0 H8 C12,0 14,2.5 14,5.5 C14,8.5 12,11 8,11 H0 M7,11 L14,21"/><path transform="translate(436.00,0)" d="M0,21 L7,0 L14,21 M2.6,14 L11.4,14"/><path transform="translate(454.50,0)" d="M0,0 H14 M7,0 V21"/><path transform="translate(473.00,0)" d="M1,0 V21"/><path transform="translate(479.50,0)" d="M7,0 C2.6,0 0,4.4 0,10.5 C0,16.6 2.6,21 7,21 C11.4,21 14,16.6 14,10.5 C14,4.4 11.4,0 7,0 Z"/><path transform="translate(498.00,0)" d="M0,21 V0 L14,21 V0"/><path transform="translate(516.50,0)" d="M2.4,17.6 V21" style="stroke-width:4.24px"/><path transform="translate(526.00,0)" d="M2.4,17.6 V21" style="stroke-width:4.24px"/><path transform="translate(535.50,0)" d="M2.4,17.6 V21" style="stroke-width:4.24px"/><path transform="translate(545.00,0)" d="M2.4,17.6 V21" style="stroke-width:4.24px"/><path transform="translate(554.50,0)" d="M3,4 L7,0 V21"/><path transform="translate(566.00,0)" d="M7,0 C2.6,0 0,4 0,10.5 C0,17 2.6,21 7,21 C11.4,21 14,17 14,10.5 C14,4 11.4,0 7,0 Z"/><path transform="translate(605.50,0)" d="M0,21 V0 L8,21 L16,0 V21"/><path transform="translate(626.00,0)" d="M1,0 V21"/><path transform="translate(632.50,0)" d="M14,5 C13,1.8 10.5,0 7,0 C2.6,0 0,4.4 0,10.5 C0,16.6 2.6,21 7,21 C10.5,21 13,19.2 14,16"/><path transform="translate(651.00,0)" d="M0,21 V0 H8 C12,0 14,2.5 14,5.5 C14,8.5 12,11 8,11 H0 M7,11 L14,21"/><path transform="translate(669.50,0)" d="M7,0 C2.6,0 0,4.4 0,10.5 C0,16.6 2.6,21 7,21 C11.4,21 14,16.6 14,10.5 C14,4.4 11.4,0 7,0 Z"/><path transform="translate(688.00,0)" d="M0,21 V0 L14,21 V0"/></g>
<g transform="translate(200.9,2657.8) scale(1.1648,1.3286)" fill="none" stroke="#000" stroke-width="2.232" vector-effect="non-scaling-stroke" class="t"><path transform="translate(0.00,0)" d="M13,0 H0 V21 M0,10 H9"/><path transform="translate(17.50,0)" d="M0,0 V21 H12"/><path transform="translate(34.00,0)" d="M7,0 C2.6,0 0,4.4 0,10.5 C0,16.6 2.6,21 7,21 C11.4,21 14,16.6 14,10.5 C14,4.4 11.4,0 7,0 Z"/><path transform="translate(52.50,0)" d="M0,0 L4.5,21 L9,0 L13.5,21 L18,0"/><path transform="translate(96.00,0)" d="M0,21 V0 H8 C12,0 14,2.5 14,5.5 C14,8.5 12,11 8,11 H0 M7,11 L14,21"/><path transform="translate(114.50,0)" d="M0,21 L7,0 L14,21 M2.6,14 L11.4,14"/><path transform="translate(133.00,0)" d="M0,0 H14 M7,0 V21"/><path transform="translate(151.50,0)" d="M1,0 V21"/><path transform="translate(158.00,0)" d="M0,21 V0 L14,21 V0"/><path transform="translate(176.50,0)" d="M14,5 C13,1.8 10.5,0 7,0 C2.6,0 0,4.4 0,10.5 C0,16.6 2.6,21 7,21 C11,21 14,18.5 14,14 V11 H8"/><path transform="translate(195.00,0)" d="M2.4,17.6 V21" style="stroke-width:4.24px"/><path transform="translate(204.50,0)" d="M2.4,17.6 V21" style="stroke-width:4.24px"/><path transform="translate(214.00,0)" d="M2.4,17.6 V21" style="stroke-width:4.24px"/><path transform="translate(223.50,0)" d="M2.4,17.6 V21" style="stroke-width:4.24px"/><path transform="translate(233.00,0)" d="M2.4,17.6 V21" style="stroke-width:4.24px"/><path transform="translate(242.50,0)" d="M2.4,17.6 V21" style="stroke-width:4.24px"/><path transform="translate(252.00,0)" d="M2.4,17.6 V21" style="stroke-width:4.24px"/><path transform="translate(261.50,0)" d="M2.4,17.6 V21" style="stroke-width:4.24px"/><path transform="translate(271.00,0)" d="M2.4,17.6 V21" style="stroke-width:4.24px"/><path transform="translate(280.50,0)" d="M2.4,17.6 V21" style="stroke-width:4.24px"/><path transform="translate(290.00,0)" d="M2.4,17.6 V21" style="stroke-width:4.24px"/><path transform="translate(299.50,0)" d="M2.4,17.6 V21" style="stroke-width:4.24px"/><path transform="translate(309.00,0)" d="M2.4,17.6 V21" style="stroke-width:4.24px"/><path transform="translate(318.50,0)" d="M2.4,17.6 V21" style="stroke-width:4.24px"/><path transform="translate(328.00,0)" d="M2.4,17.6 V21" style="stroke-width:4.24px"/><path transform="translate(337.50,0)" d="M2.4,17.6 V21" style="stroke-width:4.24px"/><path transform="translate(347.00,0)" d="M2.4,17.6 V21" style="stroke-width:4.24px"/><path transform="translate(356.50,0)" d="M2.4,17.6 V21" style="stroke-width:4.24px"/><path transform="translate(366.00,0)" d="M2.4,17.6 V21" style="stroke-width:4.24px"/><path transform="translate(375.50,0)" d="M2.4,17.6 V21" style="stroke-width:4.24px"/><path transform="translate(385.00,0)" d="M2.4,17.6 V21" style="stroke-width:4.24px"/><path transform="translate(394.50,0)" d="M2.4,17.6 V21" style="stroke-width:4.24px"/><path transform="translate(404.00,0)" d="M2.4,17.6 V21" style="stroke-width:4.24px"/><path transform="translate(413.50,0)" d="M2.4,17.6 V21" style="stroke-width:4.24px"/><path transform="translate(423.00,0)" d="M2.4,17.6 V21" style="stroke-width:4.24px"/><path transform="translate(432.50,0)" d="M2.4,17.6 V21" style="stroke-width:4.24px"/><path transform="translate(442.00,0)" d="M2.4,17.6 V21" style="stroke-width:4.24px"/><path transform="translate(451.50,0)" d="M2.4,17.6 V21" style="stroke-width:4.24px"/><path transform="translate(461.00,0)" d="M2.4,17.6 V21" style="stroke-width:4.24px"/><path transform="translate(470.50,0)" d="M2.4,17.6 V21" style="stroke-width:4.24px"/><path transform="translate(480.00,0)" d="M2.4,17.6 V21" style="stroke-width:4.24px"/><path transform="translate(489.50,0)" d="M2.4,17.6 V21" style="stroke-width:4.24px"/><path transform="translate(499.00,0)" d="M2.4,17.6 V21" style="stroke-width:4.24px"/><path transform="translate(508.50,0)" d="M2.4,17.6 V21" style="stroke-width:4.24px"/><path transform="translate(518.00,0)" d="M2.4,17.6 V21" style="stroke-width:4.24px"/><path transform="translate(527.50,0)" d="M0.5,5 C0.5,2 3,0 7,0 C11,0 13.5,2.2 13.5,5.5 C13.5,9 11,11 7,13.5 L0,21 H14"/><path transform="translate(546.00,0)" d="M13,0 H2 L1,9.5 C2.5,8.5 4.5,8 7,8 C11,8 14,10.5 14,14.5 C14,18.5 11,21 7,21 C4,21 1.4,19.8 0,17.5"/><path transform="translate(585.50,0)" d="M14,5 C13,1.8 10.5,0 7,0 C2.6,0 0,4.4 0,10.5 C0,16.6 2.6,21 7,21 C11,21 14,18.5 14,14 V11 H8"/><path transform="translate(604.00,0)" d="M0,21 V0 H8 C12,0 14,2.5 14,5.5 C14,8.5 12,11 8,11 H0"/><path transform="translate(622.50,0)" d="M0,21 V0 L8,21 L16,0 V21"/><path transform="translate(664.00,0)" d="M0,21 V0 L8,21 L16,0 V21"/><path transform="translate(684.50,0)" d="M0,21 L7,0 L14,21 M2.6,14 L11.4,14"/><path transform="translate(703.00,0)" d="M0,0 L14,21 M14,0 L0,21"/><path transform="translate(721.50,0)" d="M2.4,17.6 V21" style="stroke-width:4.24px"/></g>
<g transform="translate(200.9,2704.8) scale(1.1563,1.3286)" fill="none" stroke="#000" stroke-width="2.232" vector-effect="non-scaling-stroke" class="t"><path transform="translate(0.00,0)" d="M0,0 L4.5,21 L9,0 L13.5,21 L18,0"/><path transform="translate(22.50,0)" d="M13,0 H0 V21 H13 M0,10 H9"/><path transform="translate(40.00,0)" d="M1,0 V21"/><path transform="translate(46.50,0)" d="M14,5 C13,1.8 10.5,0 7,0 C2.6,0 0,4.4 0,10.5 C0,16.6 2.6,21 7,21 C11,21 14,18.5 14,14 V11 H8"/><path transform="translate(65.00,0)" d="M0,0 V21 M14,0 V21 M0,10 H14"/><path transform="translate(83.50,0)" d="M0,0 H14 M7,0 V21"/><path transform="translate(102.00,0)" d="M2.4,17.6 V21" style="stroke-width:4.24px"/><path transform="translate(111.50,0)" d="M2.4,17.6 V21" style="stroke-width:4.24px"/><path transform="translate(121.00,0)" d="M2.4,17.6 V21" style="stroke-width:4.24px"/><path transform="translate(130.50,0)" d="M2.4,17.6 V21" style="stroke-width:4.24px"/><path transform="translate(140.00,0)" d="M2.4,17.6 V21" style="stroke-width:4.24px"/><path transform="translate(149.50,0)" d="M2.4,17.6 V21" style="stroke-width:4.24px"/><path transform="translate(159.00,0)" d="M2.4,17.6 V21" style="stroke-width:4.24px"/><path transform="translate(168.50,0)" d="M2.4,17.6 V21" style="stroke-width:4.24px"/><path transform="translate(178.00,0)" d="M2.4,17.6 V21" style="stroke-width:4.24px"/><path transform="translate(187.50,0)" d="M2.4,17.6 V21" style="stroke-width:4.24px"/><path transform="translate(197.00,0)" d="M2.4,17.6 V21" style="stroke-width:4.24px"/><path transform="translate(206.50,0)" d="M2.4,17.6 V21" style="stroke-width:4.24px"/><path transform="translate(216.00,0)" d="M2.4,17.6 V21" style="stroke-width:4.24px"/><path transform="translate(225.50,0)" d="M2.4,17.6 V21" style="stroke-width:4.24px"/><path transform="translate(235.00,0)" d="M2.4,17.6 V21" style="stroke-width:4.24px"/><path transform="translate(244.50,0)" d="M2.4,17.6 V21" style="stroke-width:4.24px"/><path transform="translate(254.00,0)" d="M2.4,17.6 V21" style="stroke-width:4.24px"/><path transform="translate(263.50,0)" d="M2.4,17.6 V21" style="stroke-width:4.24px"/><path transform="translate(273.00,0)" d="M2.4,17.6 V21" style="stroke-width:4.24px"/><path transform="translate(282.50,0)" d="M2.4,17.6 V21" style="stroke-width:4.24px"/><path transform="translate(292.00,0)" d="M2.4,17.6 V21" style="stroke-width:4.24px"/><path transform="translate(301.50,0)" d="M2.4,17.6 V21" style="stroke-width:4.24px"/><path transform="translate(311.00,0)" d="M2.4,17.6 V21" style="stroke-width:4.24px"/><path transform="translate(320.50,0)" d="M2.4,17.6 V21" style="stroke-width:4.24px"/><path transform="translate(330.00,0)" d="M2.4,17.6 V21" style="stroke-width:4.24px"/><path transform="translate(339.50,0)" d="M2.4,17.6 V21" style="stroke-width:4.24px"/><path transform="translate(349.00,0)" d="M2.4,17.6 V21" style="stroke-width:4.24px"/><path transform="translate(358.50,0)" d="M2.4,17.6 V21" style="stroke-width:4.24px"/><path transform="translate(368.00,0)" d="M2.4,17.6 V21" style="stroke-width:4.24px"/><path transform="translate(377.50,0)" d="M2.4,17.6 V21" style="stroke-width:4.24px"/><path transform="translate(387.00,0)" d="M2.4,17.6 V21" style="stroke-width:4.24px"/><path transform="translate(396.50,0)" d="M2.4,17.6 V21" style="stroke-width:4.24px"/><path transform="translate(406.00,0)" d="M2.4,17.6 V21" style="stroke-width:4.24px"/><path transform="translate(415.50,0)" d="M2.4,17.6 V21" style="stroke-width:4.24px"/><path transform="translate(425.00,0)" d="M2.4,17.6 V21" style="stroke-width:4.24px"/><path transform="translate(434.50,0)" d="M2.4,17.6 V21" style="stroke-width:4.24px"/><path transform="translate(444.00,0)" d="M2.4,17.6 V21" style="stroke-width:4.24px"/><path transform="translate(453.50,0)" d="M2.4,17.6 V21" style="stroke-width:4.24px"/><path transform="translate(463.00,0)" d="M2.4,17.6 V21" style="stroke-width:4.24px"/><path transform="translate(472.50,0)" d="M2.4,17.6 V21" style="stroke-width:4.24px"/><path transform="translate(482.00,0)" d="M2.4,17.6 V21" style="stroke-width:4.24px"/><path transform="translate(491.50,0)" d="M2.4,17.6 V21" style="stroke-width:4.24px"/><path transform="translate(501.00,0)" d="M2.4,17.6 V21" style="stroke-width:4.24px"/><path transform="translate(510.50,0)" d="M2.4,17.6 V21" style="stroke-width:4.24px"/><path transform="translate(520.00,0)" d="M2.4,17.6 V21" style="stroke-width:4.24px"/><path transform="translate(529.50,0)" d="M2.4,17.6 V21" style="stroke-width:4.24px"/><path transform="translate(539.00,0)" d="M2.4,17.6 V21" style="stroke-width:4.24px"/><path transform="translate(548.50,0)" d="M2.4,17.6 V21" style="stroke-width:4.24px"/><path transform="translate(558.00,0)" d="M2.4,17.6 V21" style="stroke-width:4.24px"/><path transform="translate(567.50,0)" d="M2.4,17.6 V21" style="stroke-width:4.24px"/><path transform="translate(577.00,0)" d="M2.4,17.6 V21" style="stroke-width:4.24px"/><path transform="translate(586.50,0)" d="M2.4,17.6 V21" style="stroke-width:4.24px"/><path transform="translate(596.00,0)" d="M2.4,17.6 V21" style="stroke-width:4.24px"/><path transform="translate(605.50,0)" d="M2.4,17.6 V21" style="stroke-width:4.24px"/><path transform="translate(615.00,0)" d="M2.4,17.6 V21" style="stroke-width:4.24px"/><path transform="translate(624.50,0)" d="M2.4,17.6 V21" style="stroke-width:4.24px"/><path transform="translate(634.00,0)" d="M3,4 L7,0 V21"/><path transform="translate(645.50,0)" d="M7,0 C2.6,0 0,4 0,10.5 C0,17 2.6,21 7,21 C11.4,21 14,17 14,10.5 C14,4 11.4,0 7,0 Z"/><path transform="translate(685.00,0)" d="M0,0 V21 H12"/><path transform="translate(701.50,0)" d="M0,21 V0 H8 C11.5,0 13,2.2 13,5 C13,7.8 11.5,10 8,10 H0 M8,10 C12,10 14,12.5 14,15.5 C14,18.8 12,21 8,21 H0"/><path transform="translate(720.00,0)" d="M13.8,3.5 C12.5,1 10,0 7,0 C3,0 0.5,2.2 0.5,5.5 C0.5,9 3.5,10 7,10.5 C11,11 14,12.5 14,16 C14,19.5 11,21 7,21 C4,21 1.4,19.8 0,17.5"/></g>
<g transform="translate(1624.1,2647.6) scale(0.8378,1.0667)" fill="none" stroke="#000" stroke-width="2.139" vector-effect="non-scaling-stroke" class="t"><path transform="translate(0.00,0)" d="M1,0 V21"/><path transform="translate(6.50,0)" d="M0,21 V0 L14,21 V0"/><path transform="translate(25.00,0)" d="M13.8,3.5 C12.5,1 10,0 7,0 C3,0 0.5,2.2 0.5,5.5 C0.5,9 3.5,10 7,10.5 C11,11 14,12.5 14,16 C14,19.5 11,21 7,21 C4,21 1.4,19.8 0,17.5"/><path transform="translate(43.50,0)" d="M0,0 H14 M7,0 V21"/><path transform="translate(62.00,0)" d="M0,21 L7,0 L14,21 M2.6,14 L11.4,14"/><path transform="translate(80.50,0)" d="M0,0 V21 H12"/><path transform="translate(97.00,0)" d="M0,0 V21 H12"/><path transform="translate(134.50,0)" d="M0,0 V21 M14,0 V21 M0,10 H14"/><path transform="translate(153.00,0)" d="M0,21 L7,0 L14,21 M2.6,14 L11.4,14"/><path transform="translate(171.50,0)" d="M0,21 V0 L14,21 V0"/><path transform="translate(190.00,0)" d="M0,0 V21 H6 C11,21 14,17 14,10.5 C14,4 11,0 6,0 Z"/><path transform="translate(208.50,0)" d="M0,0 V21 H12"/><path transform="translate(225.00,0)" d="M13,0 H0 V21 H13 M0,10 H9"/></g>
<g transform="translate(1694.3,2682.4) scale(0.8613,1.0190)" fill="none" stroke="#000" stroke-width="2.139" vector-effect="non-scaling-stroke" class="t"><path transform="translate(0.00,0)" d="M0,21 L7,0 L14,21 M2.6,14 L11.4,14"/><path transform="translate(18.50,0)" d="M13.8,3.5 C12.5,1 10,0 7,0 C3,0 0.5,2.2 0.5,5.5 C0.5,9 3.5,10 7,10.5 C11,11 14,12.5 14,16 C14,19.5 11,21 7,21 C4,21 1.4,19.8 0,17.5"/><path transform="translate(58.00,0)" d="M13.8,3.5 C12.5,1 10,0 7,0 C3,0 0.5,2.2 0.5,5.5 C0.5,9 3.5,10 7,10.5 C11,11 14,12.5 14,16 C14,19.5 11,21 7,21 C4,21 1.4,19.8 0,17.5"/><path transform="translate(76.50,0)" d="M0,0 V21 M14,0 V21 M0,10 H14"/><path transform="translate(95.00,0)" d="M7,0 C2.6,0 0,4.4 0,10.5 C0,16.6 2.6,21 7,21 C11.4,21 14,16.6 14,10.5 C14,4.4 11.4,0 7,0 Z"/><path transform="translate(113.50,0)" d="M0,0 L4.5,21 L9,0 L13.5,21 L18,0"/><path transform="translate(136.00,0)" d="M0,21 V0 L14,21 V0"/></g>
<path d="M1534.0,603.0 L1500.0,603.0 L1463.9,666.1" fill="none" stroke="#000" stroke-width="2"/><path d="M1454.0,683.5 L1464.5,652.6 L1475.3,658.8 Z" fill="#000" stroke="none"/>
<path d="M1844.0,700.0 L1809.0,700.0 L1750.7,846.7" fill="none" stroke="#000" stroke-width="2"/><path d="M1743.3,865.3 L1749.4,833.3 L1760.9,837.9 Z" fill="#000" stroke="none"/>
<path d="M2041.4,1009.6 L2006.5,1009.6 L1974.8,1088.1" fill="none" stroke="#000" stroke-width="2"/><path d="M1967.3,1106.6 L1973.5,1074.6 L1985.0,1079.3 Z" fill="#000" stroke="none"/>
<path d="M906.0,1300.7 L873.0,1300.7 L801.2,1336.7" fill="none" stroke="#000" stroke-width="2"/><path d="M783.3,1345.7 L809.1,1325.8 L814.7,1336.9 Z" fill="#000" stroke="none"/>
<path d="M425.2,1561.8 L390.0,1561.8 L318.3,1597.2" fill="none" stroke="#000" stroke-width="2"/><path d="M300.4,1606.0 L326.4,1586.3 L331.8,1597.4 Z" fill="#000" stroke="none"/>
<path d="M939.0,1497.3 L904.0,1497.3 L831.7,1670.7" fill="none" stroke="#000" stroke-width="2"/><path d="M824.0,1689.2 L830.6,1657.3 L842.0,1662.0 Z" fill="#000" stroke="none"/>
<path d="M964.5,1600.8 L929.6,1600.8 L863.8,1720.5" fill="none" stroke="#000" stroke-width="2"/><path d="M854.2,1738.0 L864.2,1707.0 L875.0,1712.9 Z" fill="#000" stroke="none"/>
<path d="M999.3,1707.0 L964.5,1707.0 L814.2,1759.6" fill="none" stroke="#000" stroke-width="2"/><path d="M795.3,1766.2 L823.5,1749.8 L827.6,1761.5 Z" fill="#000" stroke="none"/>
<path d="M975.0,1756.3 L939.8,1756.3 L810.0,1832.6" fill="none" stroke="#000" stroke-width="2"/><path d="M792.8,1842.7 L817.2,1821.1 L823.5,1831.8 Z" fill="#000" stroke="none"/>
<path d="M1975.4,1629.3 L2009.4,1629.3 L2046.7,1556.1" fill="none" stroke="#000" stroke-width="2"/><path d="M2055.8,1538.3 L2046.8,1569.6 L2035.7,1564.0 Z" fill="#000" stroke="none"/>
<path d="M1891.5,1674.4 L1924.6,1674.4 L2120.4,1772.4" fill="none" stroke="#000" stroke-width="2"/><path d="M2138.3,1781.4 L2106.9,1772.6 L2112.5,1761.5 Z" fill="#000" stroke="none"/>
<path d="M523.6,1924.3 L557.2,1924.3 L607.3,1867.9" fill="none" stroke="#000" stroke-width="2"/><path d="M620.6,1853.0 L604.0,1881.0 L594.7,1872.8 Z" fill="#000" stroke="none"/>
<path d="M1158.2,1929.6 L1124.2,1929.6 L1037.2,1881.9" fill="none" stroke="#000" stroke-width="2"/><path d="M1019.7,1872.3 L1050.7,1882.2 L1044.8,1893.1 Z" fill="#000" stroke="none"/>
<path d="M1585.4,2056.5 L1551.8,2056.5 L1509.8,2013.9" fill="none" stroke="#000" stroke-width="2"/><path d="M1495.8,1999.6 L1522.7,2018.1 L1513.8,2026.8 Z" fill="#000" stroke="none"/>
<path d="M1423.0,2215.3 L1385.7,2215.3 L900.2,1943.4" fill="none" stroke="#000" stroke-width="2"/><path d="M882.8,1933.6 L913.7,1943.8 L907.7,1954.6 Z" fill="#000" stroke="none"/>
<path d="M1845.4,2676.1 L1884.3,2676.1 L2010.1,2806.2" fill="none" stroke="#000" stroke-width="2"/><path d="M2024.0,2820.6 L1997.3,2801.9 L2006.2,2793.3 Z" fill="#000" stroke="none"/>
<path d="M877,797 H1506 V1200 H877 Z" fill="none" stroke="#000" stroke-width="2.21" stroke-linejoin="round" />
<path d="M1506,1088 H1538 Q1541,1090 1541,1093 V1186 Q1541,1190 1538,1190 H1506" fill="none" stroke="#000" stroke-width="2.02" stroke-linejoin="round" />
<path d="M1537,1090 V1189" fill="none" stroke="#000" stroke-width="1.47" stroke-linejoin="round" />
<path d="M1424.9,796.2 V764 Q1426,761.5 1429,761.5 H1478 Q1482,762 1482.2,765 V796.2" fill="none" stroke="#000" stroke-width="2.02" stroke-linejoin="round" />
<path d="M1427,764 H1480" fill="none" stroke="#000" stroke-width="2.94" stroke-linejoin="round" />
<path d="M1435.8,755.8 V761.5 M1470.8,755.8 V761.5" fill="none" stroke="#000" stroke-width="2.02" stroke-linejoin="round" />
<path d="M1428,739.8 H1479 V755.8 H1428 Z M1440.9,739.8 V755.8 M1465.8,739.8 V755.8" fill="none" stroke="#000" stroke-width="2.02" stroke-linejoin="round" />
<path d="M1398.8,738.9 V690 Q1398.8,686.4 1403,686.4 H1504 Q1508.9,686.4 1508.9,690 V738.9 Z" fill="none" stroke="#000" stroke-width="2.02" stroke-linejoin="round" />
<path d="M1398.8,735.8 H1508.9" fill="none" stroke="#000" stroke-width="2.02" stroke-linejoin="round" />
<path d="M1406.2,685.7 H1501.3" fill="none" stroke="#000" stroke-width="3.13" stroke-linejoin="round" />
<path d="M1398.8,692 V712 Q1402.3,720 1405.8,712 V692 M1412.9,692 V712 Q1422.15,720 1431.4,712 V692 M1442.2,692 V712 Q1453.75,720 1465.3,712 V692 M1475.5,692 V712 Q1484.85,720 1494.2,712 V692 M1500.9,692 V712 Q1504.9,720 1508.9,712 V692 M1405.8,692 Q1409.35,682 1412.9,692 M1431.4,692 Q1436.8000000000002,682 1442.2,692 M1465.3,692 Q1470.4,682 1475.5,692 M1494.2,692 Q1497.5500000000002,682 1500.9,692 " fill="none" stroke="#000" stroke-width="2.02" stroke-linejoin="round" />
<path d="M1603.3,864.8 H1612.6 V939.2 H1603.3 Z" fill="none" stroke="#000" stroke-width="2.02" stroke-linejoin="round" />
<path d="M1612.6,867.5 H1872.6 M1612.6,936 H1872.6" fill="none" stroke="#000" stroke-width="3.13" stroke-linejoin="round" />
<path d="M1612.6,872.8 H1872.6 M1612.6,881.8 H1872.6 M1612.6,895.2 H1872.6 M1612.6,908.8 H1872.6 M1612.6,921.3 H1872.6 M1612.6,931.2 H1872.6" fill="none" stroke="#000" stroke-width="1.75" stroke-linejoin="round" />
<path d="M1872.6,861.9 H1906.7 V941.3 H1872.6 Z" fill="none" stroke="#000" stroke-width="2.02" stroke-linejoin="round" />
<path d="M1876.4,862 V941 M1880.2,862 V941 M1884.0,862 V941 M1887.8,862 V941 M1891.5,862 V941 M1895.3,862 V941 M1899.1,862 V941 M1902.9,862 V941 " fill="none" stroke="#000" stroke-width="1.56" stroke-linejoin="round" />
<path d="M1909,848.5 H1917.5 L1920,852 V951.5 L1917.5,955.2 H1909 L1906.7,951.5 V852 Z M1906.7,875 H1920 M1906.7,928 H1920" fill="none" stroke="#000" stroke-width="2.02" stroke-linejoin="round" />
<path d="M1571.3,901.8 H1603.3" fill="none" stroke="#000" stroke-width="2.02" stroke-linejoin="round" />
<path d="M1571.3,901.8 V1138.6 H1541" fill="none" stroke="#000" stroke-width="2.02" stroke-linejoin="round" stroke-dasharray="22,9"/>
<path d="M1920.6,902 H1976 V984.8 H1794 V1138.6 H1828.6" fill="none" stroke="#000" stroke-width="2.02" stroke-linejoin="round" stroke-dasharray="22,9"/>
<path d="M1828.6,1113 Q1828.6,1109.8 1832,1109.8 H1895 Q1902,1110 1906,1114 Q1910,1117 1914,1117 M1828.6,1113 V1165 Q1828.6,1167.9 1832,1167.9 H1895 Q1902,1168 1906,1164 Q1910,1161 1914,1161" fill="none" stroke="#000" stroke-width="2.02" stroke-linejoin="round" />
<path d="M1829.5,1111 V1167" fill="none" stroke="#000" stroke-width="3.13" stroke-linejoin="round" />
<path d="M1833.1,1110 V1168 M1837.2,1110 V1168 M1841.3,1110 V1168 M1845.4,1110 V1168 M1849.5,1110 V1168 M1853.5,1110 V1168 M1857.6,1110 V1168 M1861.7,1110 V1168 M1865.8,1110 V1168 M1869.9,1110 V1168 " fill="none" stroke="#000" stroke-width="1.38" stroke-linejoin="round" />
<path d="M1874,1110 V1168" fill="none" stroke="#000" stroke-width="2.02" stroke-linejoin="round" />
<path d="M1913.4,1110.6 H1946 V1167.9 H1913.4 Z" fill="none" stroke="#000" stroke-width="2.02" stroke-linejoin="round" />
<path d="M1925,1104 H1947 V1169 H1925 Z" fill="none" stroke="#000" stroke-width="2.02" stroke-linejoin="round" />
<path d="M1930.5,1111.0 H1941.5 M1930.5,1113.6 H1941.5 M1930.5,1116.2 H1941.5 M1930.5,1118.8 H1941.5 M1930.5,1121.4 H1941.5 M1930.5,1124.0 H1941.5 M1930.5,1126.6 H1941.5 M1930.5,1129.2 H1941.5 M1930.5,1131.8 H1941.5 M1930.5,1134.4 H1941.5 M1930.5,1137.0 H1941.5 M1930.5,1139.6 H1941.5 M1930.5,1142.2 H1941.5 M1930.5,1144.8 H1941.5 M1930.5,1147.4 H1941.5 M1930.5,1150.0 H1941.5 M1930.5,1152.6 H1941.5 M1930.5,1155.2 H1941.5 M1930.5,1157.8 H1941.5 M1930.5,1160.4 H1941.5 M1930.5,1163.0 H1941.5 M1930.5,1165.6 H1941.5 " fill="none" stroke="#000" stroke-width="1.38" stroke-linejoin="round" />
<path d="M1930,1110 V1168 M1942,1110 V1168" fill="none" stroke="#000" stroke-width="1.47" stroke-linejoin="round" />
<path d="M1944.7,1102.0 L1936.0,1107.0 L1927.3,1102.0 L1927.3,1092.0 L1936.0,1087.0 L1944.7,1092.0 Z" fill="none" stroke="#000" stroke-width="2.21" stroke-linejoin="round" />
<path d="M1927,1104 L1945,1104 L1943,1098 L1936,1089 L1929,1098 Z" fill="#000" stroke="#000" stroke-width="0.92" stroke-linejoin="round" />
<path d="M1931,1100 L1940,1093 M1933,1103 L1942,1096" fill="none" stroke="#000" stroke-width="1.29" stroke-linejoin="round" stroke="#fff"/>
<path d="M1946,1111 H2018 C2110,1113 2184.6,1180 2184.6,1253 V1308" fill="none" stroke="#000" stroke-width="2.02" stroke-linejoin="round" />
<path d="M1946,1167.7 H2018 C2080,1170 2128,1215 2128,1274.6 V1308" fill="none" stroke="#000" stroke-width="2.02" stroke-linejoin="round" />
<path d="M2128,1308 V1340 M2186.6,1308 V1340" fill="none" stroke="#000" stroke-width="2.02" stroke-linejoin="round" />
<path d="M2127.3,1307 H2186.6 V1328.4 H2127.3 Z" fill="none" stroke="#000" stroke-width="2.02" stroke-linejoin="round" />
<path d="M2131.5,1313.5 V1323 M2134.1,1313.5 V1323 M2136.7,1313.5 V1323 M2139.3,1313.5 V1323 M2141.9,1313.5 V1323 M2144.5,1313.5 V1323 M2147.1,1313.5 V1323 M2149.7,1313.5 V1323 M2152.3,1313.5 V1323 M2154.9,1313.5 V1323 M2157.5,1313.5 V1323 M2160.1,1313.5 V1323 M2162.7,1313.5 V1323 M2165.3,1313.5 V1323 M2167.9,1313.5 V1323 M2170.5,1313.5 V1323 M2173.1,1313.5 V1323 M2175.7,1313.5 V1323 M2178.3,1313.5 V1323 M2180.9,1313.5 V1323 M2183.5,1313.5 V1323 M2186.1,1313.5 V1323 " fill="none" stroke="#000" stroke-width="1.38" stroke-linejoin="round" />
<path d="M2131,1313.1 H2186 M2131,1323.4 H2186" fill="none" stroke="#000" stroke-width="1.47" stroke-linejoin="round" />
<path d="M2127.3,1308 V1328" fill="none" stroke="#000" stroke-width="2.94" stroke-linejoin="round" />
<path d="M2131.8,1318.4 L2125.8,1328.8 L2113.8,1328.8 L2107.8,1318.4 L2113.8,1308.0 L2125.8,1308.0 Z" fill="none" stroke="#000" stroke-width="2.21" stroke-linejoin="round" />
<path d="M2113,1309 L2127,1309 L2127,1328 L2113,1328 L2108,1318.4 Z" fill="#000" stroke="#000" stroke-width="0.92" stroke-linejoin="round" />
<path d="M2113,1322 L2124,1314 M2115,1325 L2125,1318" fill="none" stroke="#000" stroke-width="1.29" stroke-linejoin="round" stroke="#fff"/>
<path d="M2128,1328.4 H2186.6 V1339.8 H2128 Z" fill="none" stroke="#000" stroke-width="1.84" stroke-linejoin="round" />
<path d="M2128,1341.2 H2186.6" fill="none" stroke="#000" stroke-width="2.94" stroke-linejoin="round" />
<path d="M2127,1343 H2187 V1360 H2127 Z M2142,1343 V1360 M2172,1343 V1360" fill="none" stroke="#000" stroke-width="2.02" stroke-linejoin="round" />
<path d="M2129,1341.5 H2185" fill="none" stroke="#000" stroke-width="2.76" stroke-linejoin="round" />
<path d="M2090,1360.5 H2218 Q2228,1360.5 2233,1369 L2262,1422 Q2269,1435 2269,1447 Q2269,1459 2262,1472 L2233,1524 Q2227,1535 2215,1535 H2092 Q2081,1535 2075,1524 L2047,1472 Q2040.3,1459 2040.3,1447 Q2040.3,1435 2047,1422 L2075,1369 Q2080,1360.5 2090,1360.5 Z" fill="none" stroke="#000" stroke-width="2.12" stroke-linejoin="round" />
<path d="M2125,1346 Q2108.5,1346 2108.5,1330 V1309.5 H2085.2 L2027,1405 Q2019,1420 2019,1447 Q2019,1474 2027,1489 L2085.2,1585.7 H2108.5 V1565 Q2108.5,1547 2123,1547" fill="none" stroke="#000" stroke-width="2.02" stroke-linejoin="round" />
<path d="M2097.5,1311 V1335 Q2097.5,1357 2125,1357" fill="none" stroke="#000" stroke-width="2.02" stroke-linejoin="round" />
<path d="M2097.5,1585.7 V1562 Q2097.5,1538 2123,1538" fill="none" stroke="#000" stroke-width="2.02" stroke-linejoin="round" />
<path d="M2035,1424.6 L2039,1424 V1470 L2026.4,1447.3 L2035,1455 Z" fill="none" stroke="#000" stroke-width="1.84" stroke-linejoin="round" />
<g transform="translate(2092,1340) rotate(-90)" fill="none" stroke="#000" stroke-width="2.2"><path d="M0,0 V-10 M3,0 V-10 L9,0 V-10"/></g>
<g transform="translate(2092,1564.5) rotate(-90)" fill="none" stroke="#000" stroke-width="2.2"><path d="M0,-5 Q0,0 3,0 Q6,0 6,-5 Q6,-10 3,-10 Q0,-10 0,-5 Z M9,-10 V-3 Q9,0 12,0 Q15,0 15,-3 V-10 M17,-10 H23 M20,-10 V0"/></g>
<circle cx="2156.9" cy="1414.5" r="31.2" fill="none" stroke="#000" stroke-width="2.02"/>
<circle cx="2156.9" cy="1499.5" r="18.7" fill="none" stroke="#000" stroke-width="2.02"/>
<path d="M2111.0,1384.8 L2101.0,1402.1 L2081.0,1402.1 L2071.0,1384.8 L2081.0,1367.5 L2101.0,1367.5 Z" fill="none" stroke="#000" stroke-width="2.02" stroke-linejoin="round" />
<circle cx="2091.0" cy="1384.8" r="17.5" fill="none" stroke="#000" stroke-width="1.84"/>
<path d="M2238.5,1384.8 L2228.5,1402.1 L2208.5,1402.1 L2198.5,1384.8 L2208.5,1367.5 L2228.5,1367.5 Z" fill="none" stroke="#000" stroke-width="2.02" stroke-linejoin="round" />
<circle cx="2218.5" cy="1384.8" r="17.5" fill="none" stroke="#000" stroke-width="1.84"/>
<path d="M2111.0,1510.0 L2101.0,1527.3 L2081.0,1527.3 L2071.0,1510.0 L2081.0,1492.7 L2101.0,1492.7 Z" fill="none" stroke="#000" stroke-width="2.02" stroke-linejoin="round" />
<circle cx="2091.0" cy="1510.0" r="17.5" fill="none" stroke="#000" stroke-width="1.84"/>
<path d="M2238.5,1510.0 L2228.5,1527.3 L2208.5,1527.3 L2198.5,1510.0 L2208.5,1492.7 L2228.5,1492.7 Z" fill="none" stroke="#000" stroke-width="2.02" stroke-linejoin="round" />
<circle cx="2218.5" cy="1510.0" r="17.5" fill="none" stroke="#000" stroke-width="1.84"/>
<path d="M2123.5,1535.5 H2190.4 V1571.5 H2123.5 Z M2139,1535.5 V1571.5 M2173.4,1535.5 V1571.5" fill="none" stroke="#000" stroke-width="2.02" stroke-linejoin="round" />
<path d="M2133,1571.5 V1583 M2174.7,1571.5 V1583" fill="none" stroke="#000" stroke-width="2.02" stroke-linejoin="round" />
<path d="M2131.7,1584.8 V1596.2 Q2157.1,1598.0 2182.5,1596.2 V1584.8 Q2157.1,1583.0 2131.7,1584.8 Z M2145.4,1583.9 V1597.1 M2168.8,1583.9 V1597.1" fill="none" stroke="#000" stroke-width="1.84" stroke-linejoin="round" />
<path d="M2137,1598 H2176 V1616 H2137 Z M2137,1603 H2176" fill="none" stroke="#000" stroke-width="1.66" stroke-linejoin="round" />
<path d="M2131.7,1617.9 V1630.1 Q2157.1,1632.0 2182.5,1630.1 V1617.9 Q2157.1,1616.0 2131.7,1617.9 Z M2145.4,1617.0 V1631.0 M2168.8,1617.0 V1631.0" fill="none" stroke="#000" stroke-width="1.84" stroke-linejoin="round" />
<path d="M2137,1632 V1636 M2176,1632 V1636" fill="none" stroke="#000" stroke-width="1.66" stroke-linejoin="round" />
<path d="M2131.7,1637.8 V1649.2 Q2157.1,1651.0 2182.5,1649.2 V1637.8 Q2157.1,1636.0 2131.7,1637.8 Z M2145.4,1636.9 V1650.1 M2168.8,1636.9 V1650.1" fill="none" stroke="#000" stroke-width="1.84" stroke-linejoin="round" />
<path d="M2136,1651 H2177 V1661 H2136 Z" fill="none" stroke="#000" stroke-width="1.66" stroke-linejoin="round" />
<path d="M2133.4,1661.0 H2179.4 L2181.4,1664.0 V1736.0 L2179.4,1739.0 H2133.4 L2131.4,1736.0 V1664.0 Z M2143.4,1661.0 V1727.0 M2169.4,1661.0 V1727.0 M2132.4,1737.0 Q2143.4,1735.0 2143.4,1727.0 Q2156.4,1739.0 2169.4,1727.0 Q2169.4,1735.0 2180.4,1737.0" fill="none" stroke="#000" stroke-width="1.84" stroke-linejoin="round" />
<path d="M2172.6,1739 V1798.7 Q2172.6,1851.5 2119.8,1851.5 H1622" fill="none" stroke="#000" stroke-width="2.02" stroke-linejoin="round" />
<path d="M2140.2,1739 V1802.6 Q2140.2,1818.8 2123.7,1818.8 H1622" fill="none" stroke="#000" stroke-width="2.02" stroke-linejoin="round" />
<path d="M1564.8,1817.8 L1567.8,1815.8 H1619.9 L1622.9,1817.8 V1854.6 L1619.9,1856.6 H1567.8 L1564.8,1854.6 Z M1564.8,1825.6 H1610.9 M1564.8,1846.8 H1610.9 M1620.9,1816.8 Q1618.9,1825.6 1610.9,1825.6 Q1622.9,1836.2 1610.9,1846.8 Q1618.9,1846.8 1620.9,1855.6" fill="none" stroke="#000" stroke-width="1.84" stroke-linejoin="round" />
<path d="M1557.2,1822 H1564.8 V1850 H1557.2" fill="none" stroke="#000" stroke-width="1.66" stroke-linejoin="round" />
<path d="M1546.6,1815.8 H1555.7 Q1557.2,1836.2 1555.7,1856.6 H1546.6 Q1545.1,1836.2 1546.6,1815.8 Z M1545.8,1826.8 H1556.5 M1545.8,1845.6 H1556.5" fill="none" stroke="#000" stroke-width="1.84" stroke-linejoin="round" />
<path d="M1532.3,1815.8 H1541.4 Q1542.9,1836.2 1541.4,1856.6 H1532.3 Q1530.8,1836.2 1532.3,1815.8 Z M1531.5,1826.8 H1542.2 M1531.5,1845.6 H1542.2" fill="none" stroke="#000" stroke-width="1.84" stroke-linejoin="round" />
<path d="M1515.5,1822 H1530.8 V1850 H1515.5" fill="none" stroke="#000" stroke-width="1.66" stroke-linejoin="round" />
<path d="M1504.9,1815.8 H1514.1 Q1515.5,1836.2 1514.1,1856.6 H1504.9 Q1503.5,1836.2 1504.9,1815.8 Z M1504.2,1826.8 H1514.8 M1504.2,1845.6 H1514.8" fill="none" stroke="#000" stroke-width="1.84" stroke-linejoin="round" />
<path d="M1493.6,1822 H1503.5 V1850 H1493.6" fill="none" stroke="#000" stroke-width="1.66" stroke-linejoin="round" />
<path d="M1414.2,1815.8 H1493.6 V1856.6 H1414.2 Z" fill="none" stroke="#000" stroke-width="2.02" stroke-linejoin="round" />
<path d="M1429,1817 Q1426,1836 1429,1856.6 M1479.3,1817 Q1482,1836 1479.3,1856.6 M1429,1825.9 H1479.3" fill="none" stroke="#000" stroke-width="1.84" stroke-linejoin="round" />
<path d="M1431,1856.6 V1861.4 M1476,1856.6 V1861.4 M1440,1856.6 V1845 H1429 M1467,1856.6 V1845 H1479.3" fill="none" stroke="#000" stroke-width="1.66" stroke-linejoin="round" />
<path d="M1434,1862.5 H1475 V1875.6 H1434 Z" fill="none" stroke="#000" stroke-width="1.84" stroke-linejoin="round" />
<path d="M1436.6,1875.6 H1471.2 V1890.3 H1436.6 Z M1445.4,1875.6 V1890.3 M1461.8,1875.6 V1890.3" fill="none" stroke="#000" stroke-width="1.84" stroke-linejoin="round" />
<path d="M1391.7,1822 H1414.2 V1850 H1391.7" fill="none" stroke="#000" stroke-width="1.66" stroke-linejoin="round" />
<path d="M1393.1,1815.8 H1402.3 Q1403.7,1836.2 1402.3,1856.6 H1393.1 Q1391.7,1836.2 1393.1,1815.8 Z M1392.4,1826.8 H1403.0 M1392.4,1845.6 H1403.0" fill="none" stroke="#000" stroke-width="1.84" stroke-linejoin="round" />
<path d="M1377.4,1822 H1391.7 V1850 H1377.4" fill="none" stroke="#000" stroke-width="1.66" stroke-linejoin="round" />
<path d="M1365.6,1815.8 H1375.8 Q1377.4,1836.2 1375.8,1856.6 H1365.6 Q1364.0,1836.2 1365.6,1815.8 Z M1364.8,1826.8 H1376.6 M1364.8,1845.6 H1376.6" fill="none" stroke="#000" stroke-width="1.84" stroke-linejoin="round" />
<path d="M1351.4,1815.8 H1360.6 Q1362.0,1836.2 1360.6,1856.6 H1351.4 Q1350.0,1836.2 1351.4,1815.8 Z M1350.7,1826.8 H1361.3 M1350.7,1845.6 H1361.3" fill="none" stroke="#000" stroke-width="1.84" stroke-linejoin="round" />
<path d="M1342.3,1822 H1350 V1850 H1342.3" fill="none" stroke="#000" stroke-width="1.66" stroke-linejoin="round" />
<path d="M1279.9,1817.8 L1282.9,1815.8 H1339.3 L1342.3,1817.8 V1854.6 L1339.3,1856.6 H1282.9 L1279.9,1854.6 Z M1291.9,1825.6 H1342.3 M1291.9,1846.8 H1342.3 M1281.9,1816.8 Q1283.9,1825.6 1291.9,1825.6 Q1279.9,1836.2 1291.9,1846.8 Q1283.9,1846.8 1281.9,1855.6" fill="none" stroke="#000" stroke-width="1.84" stroke-linejoin="round" />
<path d="M1019.7,1818.9 H1279.9 M1019.7,1852 H1279.9" fill="none" stroke="#000" stroke-width="2.02" stroke-linejoin="round" />
<circle cx="1454.1" cy="1955.2" r="65.2" fill="none" stroke="#000" stroke-width="2.12"/>
<circle cx="1454.1" cy="1955.2" r="58.1" fill="none" stroke="#000" stroke-width="2.02"/>
<path d="M1482.7,1925.9 A40.5,40.5 0 1,1 1425.5,1925.9" fill="none" stroke="#000" stroke-width="1.84" stroke-linejoin="round" />
<path d="M1480.6,1928.0 A37.5,37.5 0 1,1 1427.6,1928.0" fill="none" stroke="#000" stroke-width="1.66" stroke-linejoin="round" />
<path d="M1425.8,1926.2 L1432.9,1933.3 M1414.1,1954.5 L1424.1,1954.5 M1425.8,1982.8 L1432.9,1975.7 M1454.1,1994.5 L1454.1,1984.5 M1482.4,1982.8 L1475.3,1975.7 M1494.1,1954.5 L1484.1,1954.5 M1482.4,1926.2 L1475.3,1933.3 " fill="none" stroke="#000" stroke-width="1.84" stroke-linejoin="round" />
<path d="M1421.2,1937 L1467.3,1962.2" fill="none" stroke="#000" stroke-width="3.13" stroke-linejoin="round" />
<path d="M491.7,1122.5 H354 Q268.1,1122.5 268.1,1208 V1790 Q268.1,1836.7 315.5,1836.7 H536" fill="none" stroke="#000" stroke-width="2.02" stroke-linejoin="round" />
<path d="M491.7,1156.5 H354 Q300.4,1156.5 300.4,1210 V1789 Q300.4,1804 315.5,1804 H536" fill="none" stroke="#000" stroke-width="2.02" stroke-linejoin="round" />
<path d="M491.7,1120.4 L494.7,1118.4 H552.3 L555.3,1120.4 V1157.7 L552.3,1159.7 H494.7 L491.7,1157.7 Z M503.7,1128.3 H555.3 M503.7,1149.8 H555.3 M493.7,1119.4 Q495.7,1128.3 503.7,1128.3 Q491.7,1139.1 503.7,1149.8 Q495.7,1149.8 493.7,1158.7" fill="none" stroke="#000" stroke-width="1.84" stroke-linejoin="round" />
<path d="M555.3,1122 H561.4 V1156 H555.3" fill="none" stroke="#000" stroke-width="1.66" stroke-linejoin="round" />
<path d="M563.1,1118.4 H573.5 Q575.2,1139.1 573.5,1159.7 H563.1 Q561.4,1139.1 563.1,1118.4 Z M562.2,1129.6 H574.4 M562.2,1148.5 H574.4" fill="none" stroke="#000" stroke-width="1.84" stroke-linejoin="round" />
<path d="M575.2,1124 H579.1 V1154 H575.2" fill="none" stroke="#000" stroke-width="1.66" stroke-linejoin="round" />
<path d="M581.3,1103.8 H595.1 Q597.3,1139.2 595.1,1174.7 H581.3 Q579.1,1139.2 581.3,1103.8 Z M580.2,1122.9 H596.2 M580.2,1155.6 H596.2" fill="none" stroke="#000" stroke-width="1.84" stroke-linejoin="round" />
<path d="M599.7,1099.9 H789 V1181.5 H599.7 Z" fill="none" stroke="#000" stroke-width="2.12" stroke-linejoin="round" />
<path d="M599.7,1171 L682.8,1155.3 V1097 Q684,1096 686,1096 H703 Q705.2,1096 705.2,1098 V1155.3 L789,1171" fill="none" stroke="#000" stroke-width="1.93" stroke-linejoin="round" />
<path d="M682.8,1155.3 Q694,1158 705.2,1155.3" fill="none" stroke="#000" stroke-width="1.66" stroke-linejoin="round" />
<path d="M652,1106.7 H682.8 M705.2,1106.7 H736" fill="none" stroke="#000" stroke-width="1.84" stroke-linejoin="round" />
<path d="M625.5,1139.5 V1121 Q625.5,1107 639.5,1107 Q652,1107 652,1121 V1155 M625.5,1099.9 V1097 H652 V1101 Q645,1102 639.5,1107" fill="none" stroke="#000" stroke-width="1.84" stroke-linejoin="round" />
<path d="M737,1139.5 V1121 Q737,1107 750.5,1107 Q763.5,1107 763.5,1121 V1139.5 M736,1155 V1121 M736,1099.9 V1097 H763.5 V1101 Q757,1102 750.5,1107" fill="none" stroke="#000" stroke-width="1.84" stroke-linejoin="round" />
<path d="M789.7,1112 H797 V1167 H789.7 Z" fill="#000" stroke="#000" stroke-width="0.92" stroke-linejoin="round" />
<path d="M797,1113 H805.5 V1166 H797" fill="none" stroke="#000" stroke-width="1.66" stroke-linejoin="round" />
<path d="M807.7,1103.8 H821.5 Q823.7,1139.2 821.5,1174.7 H807.7 Q805.5,1139.2 807.7,1103.8 Z M806.6,1122.9 H822.6 M806.6,1155.6 H822.6" fill="none" stroke="#000" stroke-width="1.84" stroke-linejoin="round" />
<path d="M823.7,1113 H834.6 V1166 H823.7" fill="none" stroke="#000" stroke-width="1.66" stroke-linejoin="round" />
<path d="M834.6,1112 H843.1 V1167 H834.6 Z" fill="#000" stroke="#000" stroke-width="0.92" stroke-linejoin="round" />
<path d="M843.1,1099.9 H876.4 V1179.1 H843.1 Q841,1140 843.1,1099.9 Z" fill="none" stroke="#000" stroke-width="2.02" stroke-linejoin="round" />
<path d="M605,1181.5 V1381 Q605,1386 610,1389 Q650,1407.3 694,1407.3 Q738,1407.3 778,1389 Q783,1386 783,1381 V1181.5" fill="none" stroke="#000" stroke-width="2.02" stroke-linejoin="round" />
<path d="M639.2,1227.3 H749.4 V1330.1 H639.2 Z" fill="none" stroke="#000" stroke-width="1.56" stroke-linejoin="round" />
<path d="M644.2,1232.3 H743.2 V1324.3 H644.2 Z" fill="none" stroke="#000" stroke-width="1.56" stroke-linejoin="round" />
<path d="M645.5,1241.6 H660 V1246 H656.2 V1314.5 H659 V1319.3 H645.5 V1314.5 H647.3 V1246 H645.5 Z" fill="#000" stroke="#000" stroke-width="0.74" stroke-linejoin="round" />
<path d="M656,1244.5 H661 Q673.5,1252 673.5,1270 Q673.5,1290 661,1296 H656" fill="none" stroke="#000" stroke-width="3.86" stroke-linejoin="round" />
<path d="M656,1244.5 H661 Q673.5,1252 673.5,1270 Q673.5,1290 661,1296 H656" fill="none" stroke="#000" stroke-width="0.83" stroke-linejoin="round" stroke="#fff"/>
<text x="659.5" y="1319.3" font-family="Liberation Serif" font-weight="bold" font-size="40" textLength="82.5" lengthAdjust="spacingAndGlyphs" fill="#000" stroke="#000" stroke-width="1.3">rince</text>
<path d="M689.3,1244.3 L698.9,1287.8 H723.2 L731.7,1244.3 L721.6,1260 L717.8,1240 L710.5,1260 L703.9,1240 L700.8,1260 Z" fill="#000" stroke="#000" stroke-width="1.10" stroke-linejoin="round" />
<path d="M536.0,1798.0 L539.0,1796.0 H612.0 L615.0,1798.0 V1843.0 L612.0,1845.0 H539.0 L536.0,1843.0 Z M548.0,1807.8 H615.0 M548.0,1833.2 H615.0 M538.0,1797.0 Q540.0,1807.8 548.0,1807.8 Q536.0,1820.5 548.0,1833.2 Q540.0,1833.2 538.0,1844.0" fill="none" stroke="#000" stroke-width="1.84" stroke-linejoin="round" />
<path d="M615,1803 H622.6 V1838 H615" fill="none" stroke="#000" stroke-width="1.66" stroke-linejoin="round" />
<path d="M624.5,1795.0 H636.8 Q638.7,1820.5 636.8,1846.0 H624.5 Q622.6,1820.5 624.5,1795.0 Z M623.6,1808.8 H637.7 M623.6,1832.2 H637.7" fill="none" stroke="#000" stroke-width="1.84" stroke-linejoin="round" />
<path d="M638.7,1803 H643.7 V1838 H638.7" fill="none" stroke="#000" stroke-width="1.66" stroke-linejoin="round" />
<path d="M645.5,1795.0 H657.1 Q658.9,1820.5 657.1,1846.0 H645.5 Q643.7,1820.5 645.5,1795.0 Z M644.6,1808.8 H658.0 M644.6,1832.2 H658.0" fill="none" stroke="#000" stroke-width="1.84" stroke-linejoin="round" />
<path d="M658.9,1803 H677 V1838 H658.9 M668,1803 V1838" fill="none" stroke="#000" stroke-width="1.66" stroke-linejoin="round" />
<path d="M678.8,1795.0 H690.2 Q692.0,1820.5 690.2,1846.0 H678.8 Q677.0,1820.5 678.8,1795.0 Z M677.9,1808.8 H691.1 M677.9,1832.2 H691.1" fill="none" stroke="#000" stroke-width="1.84" stroke-linejoin="round" />
<path d="M692,1803 H700.4 V1838 H692" fill="none" stroke="#000" stroke-width="1.66" stroke-linejoin="round" />
<path d="M734.3,1723.6 H847.5 V1808.6 Q848,1812 851.5,1813.7 V1857 Q851.5,1866 842,1866 V1890 Q842,1897.3 834,1897.3 H815.3 V1908" fill="none" stroke="#000" stroke-width="2.02" stroke-linejoin="round" />
<path d="M734.3,1723.6 Q731,1724 731,1727 Q722,1726 712,1728 Q701.4,1733 701.4,1742 Q702,1752 712,1755 L717.6,1757 V1790.5 Q717.6,1793 713,1793 Q703,1793 700.4,1799 V1842 Q700.4,1846 705,1846" fill="none" stroke="#000" stroke-width="2.02" stroke-linejoin="round" />
<path d="M715.5,1733.5 V1746.5 M709,1740 H722" fill="none" stroke="#000" stroke-width="1.66" stroke-linejoin="round" />
<circle cx="715.5" cy="1740.0" r="7.2" fill="none" stroke="#000" stroke-width="1.66"/>
<path d="M793.1,1850 V1827 Q793.1,1823.8 797,1823.8 H812" fill="none" stroke="#000" stroke-width="1.84" stroke-linejoin="round" />
<path d="M735.7,1898 V1993 L740,1998.7 H790.2 L794.2,1993.7 V1964.5" fill="none" stroke="#000" stroke-width="2.02" stroke-linejoin="round" />
<path d="M713.7,1915 H731 Q735.7,1916 735.7,1922" fill="none" stroke="#000" stroke-width="1.84" stroke-linejoin="round" />
<circle cx="829.4" cy="1883.2" r="8.5" fill="none" stroke="#000" stroke-width="1.84"/>
<g transform="translate(791,1806) rotate(180)" fill="none" stroke="#000" stroke-width="2"><path d="M0,0 L4,-12 L8,0 M1.5,-4 H6.5"/></g>
<g transform="translate(834,1843) rotate(180)" fill="none" stroke="#000" stroke-width="2.4"><path d="M0,0 V-11 M3.5,0 V-11 L9,0 V-11"/></g>
<g transform="translate(723,1808) rotate(180)" fill="none" stroke="#000" stroke-width="2"><path d="M0,-5.5 Q0,0 3,0 Q6,0 6,-5.5 Q6,-11 3,-11 Q0,-11 0,-5.5 Z M8,-11 V-3 Q8,0 11,0 Q14,0 14,-3 V-11 M16,-11 H23 M19.5,-11 V0"/></g>
<path d="M806.4,1688.4 H840.6 L845.2,1691.3 V1718.9 L840.6,1721.8 H806.4 L801.8,1718.9 V1691.3 Z M812.9,1689 V1721.5 M833.8,1689 V1721.5 M812.9,1690.5 Q823.3,1687 833.8,1690.5 M812.9,1719.5 Q823.3,1723 833.8,1719.5" fill="none" stroke="#000" stroke-width="1.84" stroke-linejoin="round" />
<circle cx="764.9" cy="1599.5" r="24.2" fill="none" stroke="#000" stroke-width="2.02"/>
<path d="M757.9,1623.3 V1676.7 M772.6,1623.3 V1676.7" fill="none" stroke="#000" stroke-width="2.02" stroke-linejoin="round" />
<path d="M753,1683 V1680 L756,1676.5 H759 M771.5,1676.5 H774.5 L777.5,1680 V1700 L779,1703 V1706 M753,1683 V1700 L751.7,1703 V1706" fill="none" stroke="#000" stroke-width="1.84" stroke-linejoin="round" />
<path d="M759.5,1681 V1705.9 M771,1681 V1705.9 M761,1698 H770 M758,1681 Q765,1688 773,1681" fill="none" stroke="#000" stroke-width="1.56" stroke-linejoin="round" />
<path d="M749.2,1683 H759 V1695.5 H749.2 Z" fill="#000" stroke="#000" stroke-width="0.92" stroke-linejoin="round" />
<path d="M778,1684.5 H786.6 V1693.4 H778 Z M780,1693.4 V1698.6 H782.6 V1693.4" fill="none" stroke="#000" stroke-width="1.66" stroke-linejoin="round" />
<path d="M751.7,1705.9 H778.7 V1741 H751.7 Z" fill="none" stroke="#000" stroke-width="2.02" stroke-linejoin="round" />
<path d="M751.7,1740.5 H778.7" fill="none" stroke="#000" stroke-width="2.58" stroke-linejoin="round" />
<path d="M751.7,1741.8 H779.5 V1746.4 H751.7 Z M756,1741.8 V1746.4 M775,1741.8 V1746.4" fill="none" stroke="#000" stroke-width="1.56" stroke-linejoin="round" />
<path d="M749.2,1728.2 H752 V1740.7 H749.2 Z" fill="#000" stroke="#000" stroke-width="0.92" stroke-linejoin="round" />
<path d="M778.7,1729.3 H786.6 V1738.2 H778.7" fill="none" stroke="#000" stroke-width="1.66" stroke-linejoin="round" />
<path d="M853.5,1812 H862.8 V1856 H853.5" fill="none" stroke="#000" stroke-width="1.84" stroke-linejoin="round" />
<path d="M864.6,1810.7 H875.9 Q877.7,1835.3 875.9,1860.0 H864.6 Q862.8,1835.3 864.6,1810.7 Z M863.7,1824.0 H876.8 M863.7,1846.7 H876.8" fill="none" stroke="#000" stroke-width="1.84" stroke-linejoin="round" />
<path d="M877.7,1816 H896.8 V1854 H877.7 M886,1816 V1854" fill="none" stroke="#000" stroke-width="1.66" stroke-linejoin="round" />
<path d="M898.7,1810.7 H911.1 Q913.0,1835.3 911.1,1860.0 H898.7 Q896.8,1835.3 898.7,1810.7 Z M897.8,1824.0 H912.0 M897.8,1846.7 H912.0" fill="none" stroke="#000" stroke-width="1.84" stroke-linejoin="round" />
<path d="M917.8,1810.7 H929.2 Q931.0,1835.3 929.2,1860.0 H917.8 Q916.0,1835.3 917.8,1810.7 Z M916.9,1824.0 H930.1 M916.9,1846.7 H930.1" fill="none" stroke="#000" stroke-width="1.84" stroke-linejoin="round" />
<path d="M931,1816 H939.6 V1854 H931" fill="none" stroke="#000" stroke-width="1.66" stroke-linejoin="round" />
<path d="M939.6,1813.6 L942.6,1811.6 H1016.7 L1019.7,1813.6 V1856.7 L1016.7,1858.7 H942.6 L939.6,1856.7 Z M939.6,1822.9 H1007.7 M939.6,1847.4 H1007.7 M1017.7,1812.6 Q1015.7,1822.9 1007.7,1822.9 Q1019.7,1835.2 1007.7,1847.4 Q1015.7,1847.4 1017.7,1857.7" fill="none" stroke="#000" stroke-width="1.84" stroke-linejoin="round" />
<path d="M815.3,1908 Q815.3,1915 822,1915 H833.5" fill="none" stroke="#000" stroke-width="1.84" stroke-linejoin="round" />
<path d="M833.5,1919.5 H858.7 V1954.8 H833.5 Z M841.5,1919.5 V1954.8" fill="none" stroke="#000" stroke-width="1.84" stroke-linejoin="round" />
<path d="M858.7,1926.8 H868.8 M858.7,1946.6 H868.8" fill="none" stroke="#000" stroke-width="1.66" stroke-linejoin="round" />
<path d="M868.8,1924.6 H880.8 V1951.4 H868.8 Z M868.8,1930.3 H880.8 M868.8,1945.4 H880.8" fill="none" stroke="#000" stroke-width="1.66" stroke-linejoin="round" />
<circle cx="765.3" cy="1776.4" r="29.3" fill="none" stroke="#000" stroke-width="2.02"/>
<g transform="translate(765.3,1776.4) rotate(28.5)" fill="#fff" stroke="#000" stroke-width="2" stroke-linejoin="round"><path d="M-19,24 V-16 L-5.7,-26 H11.4 L19,-14 V24 Z M0.9500000000000001,-22 L-3.8000000000000003,21" /><path d="M-23,24 H23 V40 H-23 Z"/><path d="M-19,40 H19 L21,48.0 L19,56 H-19 L-21,48.0 Z M-9.450000000000001,40 Q-12.6,48.0 -9.450000000000001,56 M9.450000000000001,40 Q12.6,48.0 9.450000000000001,56"/><path d="M-17,56 H17 V64 H-17 Z"/><path d="M-19,64 H19 L21,72.0 L19,80 H-19 L-21,72.0 Z M-9.450000000000001,64 Q-12.6,72.0 -9.450000000000001,80 M9.450000000000001,64 Q12.6,72.0 9.450000000000001,80"/><path d="M-19,80 H19 L21,88.0 L19,96 H-19 L-21,88.0 Z M-9.450000000000001,80 Q-12.6,88.0 -9.450000000000001,96 M9.450000000000001,80 Q12.6,88.0 9.450000000000001,96"/><path d="M-19,96 H19 V112 H-19 Z"/><path d="M-17,112 H17 V176 H-17 Z M-7.14,112 V164 M7.14,112 V164 M-17,173 Q-7.14,173 -7.14,164 Q0,177 7.14,164 Q7.14,173 17,173"/></g>
<circle cx="768.0" cy="1862.6" r="29.3" fill="none" stroke="#000" stroke-width="2.02"/>
<g transform="translate(768,1862.6) rotate(-32)" fill="#fff" stroke="#000" stroke-width="2" stroke-linejoin="round"><path d="M-19,24 V-16 L-5.7,-26 H11.4 L19,-14 V24 Z M0.9500000000000001,-22 L-3.8000000000000003,21" /><path d="M-23,24 H23 V40 H-23 Z"/><path d="M-19,40 H19 L21,48.0 L19,56 H-19 L-21,48.0 Z M-9.450000000000001,40 Q-12.6,48.0 -9.450000000000001,56 M9.450000000000001,40 Q12.6,48.0 9.450000000000001,56"/><path d="M-17,56 H17 V64 H-17 Z"/><path d="M-19,64 H19 L21,72.0 L19,80 H-19 L-21,72.0 Z M-9.450000000000001,64 Q-12.6,72.0 -9.450000000000001,80 M9.450000000000001,64 Q12.6,72.0 9.450000000000001,80"/><path d="M-19,80 H19 L21,88.0 L19,96 H-19 L-21,88.0 Z M-9.450000000000001,80 Q-12.6,88.0 -9.450000000000001,96 M9.450000000000001,80 Q12.6,88.0 9.450000000000001,96"/><path d="M-19,96 H19 V112 H-19 Z"/><path d="M-17,112 H17 V176 H-17 Z M-7.14,112 V164 M7.14,112 V164 M-17,173 Q-7.14,173 -7.14,164 Q0,177 7.14,164 Q7.14,173 17,173"/></g>
<path d="M666.5,1920 L615.9,2019.7 V2104 M698.5,1938.6 L647.9,2025 V2104" fill="none" stroke="#000" stroke-width="2.02" stroke-linejoin="round" />
<path d="M872.8,2005.7 L886.9,2028.9 Q889,2031.3 894,2031.3 H1027.9 Q1052,2035 1062,2060 Q1065.1,2069 1065.1,2075 V2104" fill="none" stroke="#000" stroke-width="2.02" stroke-linejoin="round" />
<path d="M843.6,2021.9 L869.8,2061.1 Q872,2064.1 880.8,2064.1 H1016.8 Q1028,2066 1032,2075 Q1033.9,2081 1033.9,2085 V2104" fill="none" stroke="#000" stroke-width="2.02" stroke-linejoin="round" />
<path d="M612.5,2104.0 H650.0 L652.0,2107.0 V2165.0 L650.0,2168.0 H612.5 L610.5,2165.0 V2107.0 Z M620.5,2116.0 V2168.0 M642.0,2116.0 V2168.0 M611.5,2106.0 Q620.5,2108.0 620.5,2116.0 Q631.2,2104.0 642.0,2116.0 Q642.0,2108.0 651.0,2106.0" fill="none" stroke="#000" stroke-width="1.84" stroke-linejoin="round" />
<path d="M615.5,2168 V2172 M647,2168 V2172" fill="none" stroke="#000" stroke-width="1.66" stroke-linejoin="round" />
<path d="M610.5,2173.8 V2184.8 Q631.2,2186.6 652.0,2184.8 V2173.8 Q631.2,2172.0 610.5,2173.8 Z M621.7,2172.9 V2185.7 M640.8,2172.9 V2185.7" fill="none" stroke="#000" stroke-width="1.84" stroke-linejoin="round" />
<path d="M615.5,2186.6 V2189 M647,2186.6 V2189" fill="none" stroke="#000" stroke-width="1.66" stroke-linejoin="round" />
<path d="M610.5,2190.8 V2201.8 Q631.2,2203.6 652.0,2201.8 V2190.8 Q631.2,2189.0 610.5,2190.8 Z M621.7,2189.9 V2202.7 M640.8,2189.9 V2202.7" fill="none" stroke="#000" stroke-width="1.84" stroke-linejoin="round" />
<path d="M615.5,2203.6 H647 V2216 H615.5 Z" fill="none" stroke="#000" stroke-width="1.66" stroke-linejoin="round" />
<path d="M610.5,2217.8 V2229.2 Q631.2,2231.0 652.0,2229.2 V2217.8 Q631.2,2216.0 610.5,2217.8 Z M621.7,2216.9 V2230.1 M640.8,2216.9 V2230.1" fill="none" stroke="#000" stroke-width="1.84" stroke-linejoin="round" />
<path d="M615.5,2231 V2240 M647,2231 V2240" fill="none" stroke="#000" stroke-width="1.66" stroke-linejoin="round" />
<path d="M613.0,2240 H649.5 V2262 Q631.25,2268 613.0,2262 Z" fill="none" stroke="#000" stroke-width="1.84" stroke-linejoin="round" />
<path d="M1031.0,2104.0 H1068.0 L1070.0,2107.0 V2165.0 L1068.0,2168.0 H1031.0 L1029.0,2165.0 V2107.0 Z M1038.8,2116.0 V2168.0 M1060.2,2116.0 V2168.0 M1030.0,2106.0 Q1038.8,2108.0 1038.8,2116.0 Q1049.5,2104.0 1060.2,2116.0 Q1060.2,2108.0 1069.0,2106.0" fill="none" stroke="#000" stroke-width="1.84" stroke-linejoin="round" />
<path d="M1034,2168 V2172 M1065,2168 V2172" fill="none" stroke="#000" stroke-width="1.66" stroke-linejoin="round" />
<path d="M1029.0,2173.8 V2184.8 Q1049.5,2186.6 1070.0,2184.8 V2173.8 Q1049.5,2172.0 1029.0,2173.8 Z M1040.1,2172.9 V2185.7 M1058.9,2172.9 V2185.7" fill="none" stroke="#000" stroke-width="1.84" stroke-linejoin="round" />
<path d="M1034,2186.6 V2189 M1065,2186.6 V2189" fill="none" stroke="#000" stroke-width="1.66" stroke-linejoin="round" />
<path d="M1029.0,2190.8 V2201.8 Q1049.5,2203.6 1070.0,2201.8 V2190.8 Q1049.5,2189.0 1029.0,2190.8 Z M1040.1,2189.9 V2202.7 M1058.9,2189.9 V2202.7" fill="none" stroke="#000" stroke-width="1.84" stroke-linejoin="round" />
<path d="M1034,2203.6 H1065 V2216 H1034 Z" fill="none" stroke="#000" stroke-width="1.66" stroke-linejoin="round" />
<path d="M1029.0,2217.8 V2229.2 Q1049.5,2231.0 1070.0,2229.2 V2217.8 Q1049.5,2216.0 1029.0,2217.8 Z M1040.1,2216.9 V2230.1 M1058.9,2216.9 V2230.1" fill="none" stroke="#000" stroke-width="1.84" stroke-linejoin="round" />
<path d="M1034,2231 V2240 M1065,2231 V2240" fill="none" stroke="#000" stroke-width="1.66" stroke-linejoin="round" />
<path d="M1031.5,2240 H1067.5 V2262 Q1049.5,2268 1031.5,2262 Z" fill="none" stroke="#000" stroke-width="1.84" stroke-linejoin="round" />
<path d="M605,2262.8 H1104 V2345.5 H605 Z" fill="none" stroke="#000" stroke-width="2.12" stroke-linejoin="round" />
<path d="M592,2260 H605 V2348 H592 Z M598,2260 V2348" fill="none" stroke="#000" stroke-width="1.84" stroke-linejoin="round" />
<path d="M592,2263 L525,2269 Q494.8,2272 494.8,2304 Q494.8,2336 520,2338.5 L592,2345.5" fill="none" stroke="#000" stroke-width="2.02" stroke-linejoin="round" />
<circle cx="530.6" cy="2303.9" r="18.7" fill="none" stroke="#000" stroke-width="2.02"/>
<path d="M1104.8,2262.8 H1113.2 V2345.8 H1104.8 Z" fill="none" stroke="#000" stroke-width="1.84" stroke-linejoin="round" />
<path d="M1081.6,2291.5 H1088.5 V2318.2 H1081.6 Z" fill="none" stroke="#000" stroke-width="1.84" stroke-linejoin="round" />
<path d="M1113.2,2285 H1141.3 M1113.2,2323.4 H1141.3" fill="none" stroke="#000" stroke-width="2.02" stroke-linejoin="round" />
<path d="M1141.3,2318.2 V2270 H1237.7 M1170,2339.7 H1237.7" fill="none" stroke="#000" stroke-width="2.02" stroke-linejoin="round" />
<circle cx="1237.7" cy="2304.5" r="35.2" fill="none" stroke="#000" stroke-width="2.02"/>
<circle cx="1237.7" cy="2304.5" r="18.2" fill="none" stroke="#000" stroke-width="2.02"/>
<path d="M1141.3,2318.2 H1156 Q1170.9,2319 1170.9,2333.2 Q1170.9,2347.9 1156.2,2347.9 Q1141.5,2347.9 1141.5,2333.2 Z" fill="none" stroke="#000" stroke-width="1.84" stroke-linejoin="round" />
<path d="M1166.7,2333.2 L1161.5,2342.3 L1151.0,2342.3 L1145.7,2333.2 L1151.0,2324.1 L1161.5,2324.1 Z" fill="none" stroke="#000" stroke-width="1.84" stroke-linejoin="round" />
<path d="M1346,2929.5 H1565 Q1578.8,2929 1578.8,2915 V2858 Q1578.8,2850 1587,2850 H1703 Q1710.5,2850 1710.5,2858 V2916 Q1711,2925 1715,2930" fill="none" stroke="#000" stroke-width="2.02" stroke-linejoin="round" />
<path d="M1706,2916 Q1714,2925 1713,2930 M1773,2916 Q1767,2925 1768,2930" fill="none" stroke="#000" stroke-width="1.66" stroke-linejoin="round" />
<path d="M1775,2930 Q1779.8,2925 1779.8,2916 V2858 Q1779.8,2850 1788,2850 H1906 Q1913.8,2850 1913.8,2858 V2916 Q1914,2928 1925,2931" fill="none" stroke="#000" stroke-width="2.02" stroke-linejoin="round" />
<path d="M1715,2930 H1775" fill="none" stroke="#000" stroke-width="2.02" stroke-linejoin="round" />
<path d="M1346,2929.5 Q1338.5,2929.5 1338.5,2937 V3051 Q1338.5,3058.9 1346,3058.9 H1960 Q1967,3058.9 1967,3051" fill="none" stroke="#000" stroke-width="2.02" stroke-linejoin="round" />
<path d="M1476.4,2938.5 H1960 Q1967,2938.5 1967,2946 V3051" fill="none" stroke="#000" stroke-width="2.02" stroke-linejoin="round" />
<path d="M1476.4,3048.7 H1528 M1634,3048.7 H1960 Q1967,3048.7 1967,3041" fill="none" stroke="#000" stroke-width="1.84" stroke-linejoin="round" />
<path d="M1567.2,3058.9 H1528 V3084.8 H1633.5 V3058.9" fill="none" stroke="#000" stroke-width="2.02" stroke-linejoin="round" />
<path d="M1567.2,3084.8 V3030 Q1567,3014 1555,3013.8 H1537.7 Q1530,3015 1512.8,3033.7" fill="none" stroke="#000" stroke-width="1.84" stroke-linejoin="round" />
<path d="M1600,3065 Q1602,3050 1616,3049 H1634" fill="none" stroke="#000" stroke-width="1.84" stroke-linejoin="round" />
<path d="M1897.6,3058.9 V3084.8 H1963.3 V3058.9" fill="none" stroke="#000" stroke-width="2.02" stroke-linejoin="round" />
<path d="M1526,2969.8 Q1532,2993 1542,2993 H1638.8" fill="none" stroke="#000" stroke-width="1.84" stroke-linejoin="round" />
<ellipse cx="1472" cy="2993.9" rx="50.4" ry="55.3" fill="none" stroke="#000" stroke-width="2.0"/>
<circle cx="1476.6" cy="2993.6" r="45.4" fill="none" stroke="#000" stroke-width="1.84"/>
<path d="M1518.5,2994.0 L1498.0,3029.5 L1457.0,3029.5 L1436.5,2994.0 L1457.0,2958.5 L1498.0,2958.5 Z" fill="none" stroke="#000" stroke-width="1.84" stroke-linejoin="round" />
<circle cx="1477.0" cy="2994.0" r="34.5" fill="none" stroke="#000" stroke-width="1.84"/>
<path d="M1506.7,2993.7 L1492.0,3019.2 L1462.5,3019.2 L1447.7,2993.7 L1462.5,2968.2 L1492.0,2968.2 Z" fill="none" stroke="#000" stroke-width="1.84" stroke-linejoin="round" />
<circle cx="1477.0" cy="2993.7" r="24.0" fill="none" stroke="#000" stroke-width="1.84"/>
<circle cx="1703.5" cy="2993.3" r="64.7" fill="#fff" stroke="#000" stroke-width="2.02"/>
<circle cx="1703.5" cy="2993.3" r="41.6" fill="none" stroke="#000" stroke-width="1.84"/>
<circle cx="1703.5" cy="2993.3" r="36.5" fill="none" stroke="#000" stroke-width="1.84"/>
<path d="M1967,2951.7 H2046 L2050,2956 V3033 L2046,3037.2 H1967" fill="none" stroke="#000" stroke-width="2.02" stroke-linejoin="round" />
<path d="M1967,2994.7 H2050 M1971,2951.7 V3037.2" fill="none" stroke="#000" stroke-width="1.84" stroke-linejoin="round" />
<path d="M2050,2967 H2069 Q2073.2,2967 2073.2,2971 V3017 Q2073.2,3021 2069,3021 H2050" fill="none" stroke="#000" stroke-width="1.84" stroke-linejoin="round" />
<path d="M2052,2985 L2056,2990 V3000 L2052,3005 M2058,2983 V3006" fill="none" stroke="#000" stroke-width="1.47" stroke-linejoin="round" />
<path d="M1925,2931 Q1912.8,2928 1912.8,2915 V2858 Q1912.8,2846 1920,2846" fill="none" stroke="#000" stroke-width="1.47" stroke-linejoin="round" />
<path d="M1967.2,2910 V2951.7 M2026.9,2925 V2951.7 M2066.7,2925 V2967" fill="none" stroke="#000" stroke-width="1.84" stroke-linejoin="round" />
<path d="M1926.9,2837.2 L2006.4,2855.1 L2003.8,2870.5 L2038.5,2879.5 Q2064,2889 2069,2905 Q2071,2925 2064.1,2930.8 Q2057,2937 2047.4,2937.2 L1938.5,2910.3 Q1920,2904 1918,2890 Z" fill="none" stroke="#000" stroke-width="2.02" stroke-linejoin="round" />
<path d="M1926,2843.5 L2005.5,2861.5" fill="none" stroke="#000" stroke-width="1.66" stroke-linejoin="round" />
<circle cx="1941.0" cy="2887.0" r="7.0" fill="none" stroke="#000" stroke-width="1.66"/>
<path d="M1928,2895 L1943,2899 L1952,2883 L1951,2876 M1934,2878 Q1928,2881 1934,2885" fill="none" stroke="#000" stroke-width="1.47" stroke-linejoin="round" />
<circle cx="2044.9" cy="2914.0" r="7.0" fill="none" stroke="#000" stroke-width="1.66"/>
<path d="M2031.9,2922 L2046.9,2926 L2055.9,2910 L2054.9,2903 M2037.9,2905 Q2031.9,2908 2037.9,2912" fill="none" stroke="#000" stroke-width="1.47" stroke-linejoin="round" />
<path d="M2038.5,2879.5 L2053.8,2844.9 L2088.5,2860.3 L2069.2,2902.6" fill="none" stroke="#000" stroke-width="2.02" stroke-linejoin="round" />
<path d="M2056.5,2848.7 L2086.2,2862" fill="none" stroke="#000" stroke-width="1.66" stroke-linejoin="round" />
<path d="M2060.3,2838.5 L2216.7,2509 M2088.5,2851.3 L2244.9,2521.8" fill="none" stroke="#000" stroke-width="2.02" stroke-linejoin="round" />
<path d="M2208.4,2503.7 A55.1,55.1 0 1,1 2254,2525.6 Z" fill="none" stroke="#000" stroke-width="2.02" stroke-linejoin="round" />
</svg></body></html>
